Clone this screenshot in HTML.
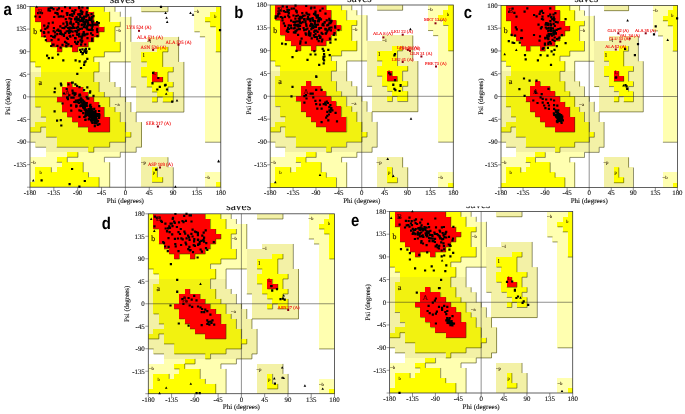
<!DOCTYPE html><html><head><meta charset="utf-8"><style>
html,body{margin:0;padding:0;background:#fff}
svg{display:block}
text{text-rendering:geometricPrecision}
.tk{font-family:"Liberation Serif",serif;font-size:6.9px;fill:#111;stroke:#111;stroke-width:0.12px}
.ax{font-family:"Liberation Serif",serif;font-size:7px;fill:#111;stroke:#111;stroke-width:0.12px}
.pl{font-family:"Liberation Sans",sans-serif;font-weight:bold;font-size:17px;fill:#000}
.rl{font-family:"Liberation Serif",serif;font-size:6px;fill:#2a1800;stroke:#2a1800;stroke-width:0.2px}
.ol{font-family:"Liberation Serif",serif;font-size:4.8px;fill:#f01010;stroke:#f01010;stroke-width:0.12px}
.tt{font-family:"Liberation Serif",serif;font-size:9px;fill:#111;stroke:#111;stroke-width:0.15px}
</style></head><body>
<svg width="685" height="414" viewBox="0 0 685 414">
<rect width="685" height="414" fill="#fff"/>
<defs><g id="map" shape-rendering="crispEdges"><rect x="0" y="0" width="1.04" height="1.04" fill="#ffff00"/><rect x="1" y="0" width="10.04" height="1.04" fill="#ff0000"/><rect x="11" y="0" width="3.04" height="1.04" fill="#ffff00"/><rect x="14" y="0" width="2.04" height="1.04" fill="#ffffb0"/><rect x="21" y="0" width="5.04" height="1.04" fill="#f3f1a6"/><rect x="31" y="0" width="4.04" height="1.04" fill="#ffffb0"/><rect x="35" y="0" width="1.04" height="1.04" fill="#ffff00"/><rect x="0" y="1" width="1.04" height="1.04" fill="#ffff00"/><rect x="1" y="1" width="11.04" height="1.04" fill="#ff0000"/><rect x="12" y="1" width="3.04" height="1.04" fill="#ffff00"/><rect x="15" y="1" width="2.04" height="1.04" fill="#ffffb0"/><rect x="31" y="1" width="3.04" height="1.04" fill="#ffffb0"/><rect x="34" y="1" width="2.04" height="1.04" fill="#ffff00"/><rect x="0" y="2" width="1.04" height="1.04" fill="#ffff00"/><rect x="1" y="2" width="11.04" height="1.04" fill="#ff0000"/><rect x="12" y="2" width="3.04" height="1.04" fill="#ffff00"/><rect x="15" y="2" width="4.04" height="1.04" fill="#ffffb0"/><rect x="31" y="2" width="2.04" height="1.04" fill="#ffffb0"/><rect x="33" y="2" width="3.04" height="1.04" fill="#ffff00"/><rect x="0" y="3" width="2.04" height="1.04" fill="#ffff00"/><rect x="2" y="3" width="11.04" height="1.04" fill="#ff0000"/><rect x="13" y="3" width="4.04" height="1.04" fill="#ffff00"/><rect x="17" y="3" width="2.04" height="1.04" fill="#ffffb0"/><rect x="31" y="3" width="3.04" height="1.04" fill="#ffffb0"/><rect x="34" y="3" width="2.04" height="1.04" fill="#ffff00"/><rect x="0" y="4" width="2.04" height="1.04" fill="#ffff00"/><rect x="2" y="4" width="12.04" height="1.04" fill="#ff0000"/><rect x="14" y="4" width="2.04" height="1.04" fill="#ffff00"/><rect x="16" y="4" width="3.04" height="1.04" fill="#ffffb0"/><rect x="31" y="4" width="4.04" height="1.04" fill="#ffffb0"/><rect x="35" y="4" width="1.04" height="1.04" fill="#ffff00"/><rect x="0" y="5" width="2.04" height="1.04" fill="#ffff00"/><rect x="2" y="5" width="11.04" height="1.04" fill="#ff0000"/><rect x="13" y="5" width="3.04" height="1.04" fill="#ffff00"/><rect x="16" y="5" width="3.04" height="1.04" fill="#ffffb0"/><rect x="32" y="5" width="3.04" height="1.04" fill="#ffffb0"/><rect x="35" y="5" width="1.04" height="1.04" fill="#ffff00"/><rect x="0" y="6" width="3.04" height="1.04" fill="#ffff00"/><rect x="3" y="6" width="9.04" height="1.04" fill="#ff0000"/><rect x="12" y="6" width="4.04" height="1.04" fill="#ffff00"/><rect x="16" y="6" width="3.04" height="1.04" fill="#ffffb0"/><rect x="22" y="6" width="6.04" height="1.04" fill="#f3f1a6"/><rect x="33" y="6" width="2.04" height="1.04" fill="#ffffb0"/><rect x="35" y="6" width="1.04" height="1.04" fill="#ffff00"/><rect x="0" y="7" width="4.04" height="1.04" fill="#ffff00"/><rect x="4" y="7" width="7.04" height="1.04" fill="#ff0000"/><rect x="11" y="7" width="6.04" height="1.04" fill="#ffff00"/><rect x="17" y="7" width="2.04" height="1.04" fill="#ffffb0"/><rect x="19" y="7" width="9.04" height="1.04" fill="#f3f1a6"/><rect x="33" y="7" width="2.04" height="1.04" fill="#ffffb0"/><rect x="35" y="7" width="1.04" height="1.04" fill="#ffff00"/><rect x="0" y="8" width="5.04" height="1.04" fill="#ffff00"/><rect x="5" y="8" width="1.04" height="1.04" fill="#ff0000"/><rect x="6" y="8" width="2.04" height="1.04" fill="#ffff00"/><rect x="8" y="8" width="1.04" height="1.04" fill="#ff0000"/><rect x="9" y="8" width="8.04" height="1.04" fill="#ffff00"/><rect x="17" y="8" width="2.04" height="1.04" fill="#ffffb0"/><rect x="19" y="8" width="5.04" height="1.04" fill="#f3f1a6"/><rect x="24" y="8" width="2.04" height="1.04" fill="#ffff00"/><rect x="26" y="8" width="2.04" height="1.04" fill="#f3f1a6"/><rect x="33" y="8" width="2.04" height="1.04" fill="#ffffb0"/><rect x="35" y="8" width="1.04" height="1.04" fill="#ffff00"/><rect x="0" y="9" width="14.04" height="1.04" fill="#ffff00"/><rect x="14" y="9" width="5.04" height="1.04" fill="#ffffb0"/><rect x="19" y="9" width="2.04" height="1.04" fill="#f3f1a6"/><rect x="21" y="9" width="4.04" height="1.04" fill="#ffff00"/><rect x="25" y="9" width="3.04" height="1.04" fill="#f3f1a6"/><rect x="33" y="9" width="3.04" height="1.04" fill="#ffffb0"/><rect x="0" y="10" width="12.04" height="1.04" fill="#ffff00"/><rect x="12" y="10" width="7.04" height="1.04" fill="#ffffb0"/><rect x="19" y="10" width="2.04" height="1.04" fill="#f3f1a6"/><rect x="21" y="10" width="4.04" height="1.04" fill="#ffff00"/><rect x="25" y="10" width="3.04" height="1.04" fill="#f3f1a6"/><rect x="33" y="10" width="3.04" height="1.04" fill="#ffffb0"/><rect x="0" y="11" width="1.04" height="1.04" fill="#ffffb0"/><rect x="1" y="11" width="12.04" height="1.04" fill="#ffff00"/><rect x="13" y="11" width="2.04" height="1.04" fill="#ffffb0"/><rect x="19" y="11" width="3.04" height="1.04" fill="#f3f1a6"/><rect x="22" y="11" width="3.04" height="1.04" fill="#ffff00"/><rect x="25" y="11" width="4.04" height="1.04" fill="#f3f1a6"/><rect x="33" y="11" width="3.04" height="1.04" fill="#ffffb0"/><rect x="0" y="12" width="2.04" height="1.04" fill="#ffffb0"/><rect x="2" y="12" width="11.04" height="1.04" fill="#ffff00"/><rect x="13" y="12" width="2.04" height="1.04" fill="#ffffb0"/><rect x="19" y="12" width="2.04" height="1.04" fill="#f3f1a6"/><rect x="21" y="12" width="6.04" height="1.04" fill="#ffff00"/><rect x="27" y="12" width="2.04" height="1.04" fill="#f3f1a6"/><rect x="33" y="12" width="3.04" height="1.04" fill="#ffffb0"/><rect x="0" y="13" width="2.04" height="1.04" fill="#f3f1a6"/><rect x="2" y="13" width="10.04" height="1.04" fill="#f2f210"/><rect x="12" y="13" width="3.04" height="1.04" fill="#f3f1a6"/><rect x="19" y="13" width="2.04" height="1.04" fill="#f3f1a6"/><rect x="21" y="13" width="2.04" height="1.04" fill="#ffff00"/><rect x="23" y="13" width="1.04" height="1.04" fill="#ff0000"/><rect x="24" y="13" width="2.04" height="1.04" fill="#ffff00"/><rect x="26" y="13" width="3.04" height="1.04" fill="#f3f1a6"/><rect x="33" y="13" width="3.04" height="1.04" fill="#ffffb0"/><rect x="0" y="14" width="1.04" height="1.04" fill="#f3f1a6"/><rect x="1" y="14" width="11.04" height="1.04" fill="#f2f210"/><rect x="12" y="14" width="3.04" height="1.04" fill="#f3f1a6"/><rect x="19" y="14" width="3.04" height="1.04" fill="#f3f1a6"/><rect x="22" y="14" width="1.04" height="1.04" fill="#ffff00"/><rect x="23" y="14" width="2.04" height="1.04" fill="#ff0000"/><rect x="25" y="14" width="1.04" height="1.04" fill="#ffff00"/><rect x="26" y="14" width="3.04" height="1.04" fill="#f3f1a6"/><rect x="33" y="14" width="3.04" height="1.04" fill="#ffffb0"/><rect x="0" y="15" width="1.04" height="1.04" fill="#f3f1a6"/><rect x="1" y="15" width="6.04" height="1.04" fill="#f2f210"/><rect x="7" y="15" width="1.04" height="1.04" fill="#ff0000"/><rect x="8" y="15" width="5.04" height="1.04" fill="#f2f210"/><rect x="13" y="15" width="3.04" height="1.04" fill="#f3f1a6"/><rect x="19" y="15" width="3.04" height="1.04" fill="#f3f1a6"/><rect x="22" y="15" width="5.04" height="1.04" fill="#ffff00"/><rect x="27" y="15" width="2.04" height="1.04" fill="#f3f1a6"/><rect x="33" y="15" width="3.04" height="1.04" fill="#ffffb0"/><rect x="0" y="16" width="1.04" height="1.04" fill="#f3f1a6"/><rect x="1" y="16" width="5.04" height="1.04" fill="#f2f210"/><rect x="6" y="16" width="4.04" height="1.04" fill="#ff0000"/><rect x="10" y="16" width="3.04" height="1.04" fill="#f2f210"/><rect x="13" y="16" width="4.04" height="1.04" fill="#f3f1a6"/><rect x="20" y="16" width="3.04" height="1.04" fill="#f3f1a6"/><rect x="23" y="16" width="3.04" height="1.04" fill="#ffff00"/><rect x="26" y="16" width="3.04" height="1.04" fill="#f3f1a6"/><rect x="33" y="16" width="3.04" height="1.04" fill="#ffffb0"/><rect x="0" y="17" width="1.04" height="1.04" fill="#f3f1a6"/><rect x="1" y="17" width="5.04" height="1.04" fill="#f2f210"/><rect x="6" y="17" width="5.04" height="1.04" fill="#ff0000"/><rect x="11" y="17" width="3.04" height="1.04" fill="#f2f210"/><rect x="14" y="17" width="3.04" height="1.04" fill="#f3f1a6"/><rect x="20" y="17" width="4.04" height="1.04" fill="#f3f1a6"/><rect x="24" y="17" width="3.04" height="1.04" fill="#ffff00"/><rect x="27" y="17" width="2.04" height="1.04" fill="#f3f1a6"/><rect x="33" y="17" width="3.04" height="1.04" fill="#ffffb0"/><rect x="0" y="18" width="1.04" height="1.04" fill="#f3f1a6"/><rect x="1" y="18" width="4.04" height="1.04" fill="#f2f210"/><rect x="5" y="18" width="7.04" height="1.04" fill="#ff0000"/><rect x="12" y="18" width="3.04" height="1.04" fill="#f2f210"/><rect x="15" y="18" width="3.04" height="1.04" fill="#f3f1a6"/><rect x="20" y="18" width="3.04" height="1.04" fill="#f3f1a6"/><rect x="23" y="18" width="1.04" height="1.04" fill="#ffff00"/><rect x="24" y="18" width="1.04" height="1.04" fill="#f3f1a6"/><rect x="25" y="18" width="2.04" height="1.04" fill="#ffff00"/><rect x="27" y="18" width="2.04" height="1.04" fill="#f3f1a6"/><rect x="33" y="18" width="3.04" height="1.04" fill="#ffffb0"/><rect x="0" y="19" width="1.04" height="1.04" fill="#f3f1a6"/><rect x="1" y="19" width="5.04" height="1.04" fill="#f2f210"/><rect x="6" y="19" width="7.04" height="1.04" fill="#ff0000"/><rect x="13" y="19" width="2.04" height="1.04" fill="#f2f210"/><rect x="15" y="19" width="4.04" height="1.04" fill="#f3f1a6"/><rect x="20" y="19" width="9.04" height="1.04" fill="#f3f1a6"/><rect x="33" y="19" width="3.04" height="1.04" fill="#ffffb0"/><rect x="0" y="20" width="2.04" height="1.04" fill="#f3f1a6"/><rect x="2" y="20" width="4.04" height="1.04" fill="#f2f210"/><rect x="6" y="20" width="8.04" height="1.04" fill="#ff0000"/><rect x="14" y="20" width="2.04" height="1.04" fill="#f2f210"/><rect x="16" y="20" width="3.04" height="1.04" fill="#f3f1a6"/><rect x="20" y="20" width="9.04" height="1.04" fill="#f3f1a6"/><rect x="33" y="20" width="3.04" height="1.04" fill="#ffffb0"/><rect x="0" y="21" width="2.04" height="1.04" fill="#f3f1a6"/><rect x="2" y="21" width="5.04" height="1.04" fill="#f2f210"/><rect x="7" y="21" width="7.04" height="1.04" fill="#ff0000"/><rect x="14" y="21" width="3.04" height="1.04" fill="#f2f210"/><rect x="17" y="21" width="3.04" height="1.04" fill="#f3f1a6"/><rect x="33" y="21" width="3.04" height="1.04" fill="#ffffb0"/><rect x="0" y="22" width="3.04" height="1.04" fill="#f3f1a6"/><rect x="3" y="22" width="5.04" height="1.04" fill="#f2f210"/><rect x="8" y="22" width="7.04" height="1.04" fill="#ff0000"/><rect x="15" y="22" width="2.04" height="1.04" fill="#f2f210"/><rect x="17" y="22" width="3.04" height="1.04" fill="#f3f1a6"/><rect x="33" y="22" width="3.04" height="1.04" fill="#ffffb0"/><rect x="0" y="23" width="1.04" height="1.04" fill="#f3f1a6"/><rect x="1" y="23" width="8.04" height="1.04" fill="#f2f210"/><rect x="9" y="23" width="6.04" height="1.04" fill="#ff0000"/><rect x="15" y="23" width="3.04" height="1.04" fill="#f2f210"/><rect x="18" y="23" width="3.04" height="1.04" fill="#f3f1a6"/><rect x="33" y="23" width="3.04" height="1.04" fill="#ffffb0"/><rect x="0" y="24" width="2.04" height="1.04" fill="#f2f210"/><rect x="2" y="24" width="1.04" height="1.04" fill="#f3f1a6"/><rect x="3" y="24" width="8.04" height="1.04" fill="#f2f210"/><rect x="11" y="24" width="4.04" height="1.04" fill="#ff0000"/><rect x="15" y="24" width="3.04" height="1.04" fill="#f2f210"/><rect x="18" y="24" width="3.04" height="1.04" fill="#f3f1a6"/><rect x="33" y="24" width="3.04" height="1.04" fill="#ffffb0"/><rect x="0" y="25" width="3.04" height="1.04" fill="#f3f1a6"/><rect x="3" y="25" width="15.04" height="1.04" fill="#f2f210"/><rect x="18" y="25" width="1.04" height="1.04" fill="#ffff00"/><rect x="19" y="25" width="2.04" height="1.04" fill="#f3f1a6"/><rect x="33" y="25" width="3.04" height="1.04" fill="#ffffb0"/><rect x="0" y="26" width="5.04" height="1.04" fill="#f3f1a6"/><rect x="5" y="26" width="13.04" height="1.04" fill="#f2f210"/><rect x="18" y="26" width="3.04" height="1.04" fill="#f3f1a6"/><rect x="33" y="26" width="3.04" height="1.04" fill="#ffffb0"/><rect x="1" y="27" width="4.04" height="1.04" fill="#f3f1a6"/><rect x="5" y="27" width="10.04" height="1.04" fill="#f2f210"/><rect x="15" y="27" width="6.04" height="1.04" fill="#f3f1a6"/><rect x="3" y="28" width="8.04" height="1.04" fill="#f3f1a6"/><rect x="11" y="28" width="1.04" height="1.04" fill="#f2f210"/><rect x="12" y="28" width="8.04" height="1.04" fill="#f3f1a6"/><rect x="3" y="29" width="4.04" height="1.04" fill="#ffffb0"/><rect x="7" y="29" width="2.04" height="1.04" fill="#ffff00"/><rect x="9" y="29" width="8.04" height="1.04" fill="#ffffb0"/><rect x="0" y="30" width="5.04" height="1.04" fill="#ffffb0"/><rect x="5" y="30" width="2.04" height="1.04" fill="#ffff00"/><rect x="7" y="30" width="7.04" height="1.04" fill="#ffffb0"/><rect x="21" y="30" width="5.04" height="1.04" fill="#f3f1a6"/><rect x="0" y="31" width="6.04" height="1.04" fill="#ffffb0"/><rect x="6" y="31" width="4.04" height="1.04" fill="#ffff00"/><rect x="10" y="31" width="5.04" height="1.04" fill="#ffffb0"/><rect x="21" y="31" width="5.04" height="1.04" fill="#f3f1a6"/><rect x="0" y="32" width="1.04" height="1.04" fill="#ffffb0"/><rect x="1" y="32" width="3.04" height="1.04" fill="#ffff00"/><rect x="4" y="32" width="1.04" height="1.04" fill="#ffffb0"/><rect x="5" y="32" width="5.04" height="1.04" fill="#ffff00"/><rect x="10" y="32" width="5.04" height="1.04" fill="#ffffb0"/><rect x="21" y="32" width="2.04" height="1.04" fill="#f3f1a6"/><rect x="23" y="32" width="1.04" height="1.04" fill="#ffff00"/><rect x="24" y="32" width="3.04" height="1.04" fill="#f3f1a6"/><rect x="0" y="33" width="1.04" height="1.04" fill="#ffffb0"/><rect x="1" y="33" width="10.04" height="1.04" fill="#ffff00"/><rect x="11" y="33" width="4.04" height="1.04" fill="#ffffb0"/><rect x="21" y="33" width="2.04" height="1.04" fill="#f3f1a6"/><rect x="23" y="33" width="1.04" height="1.04" fill="#ffff00"/><rect x="24" y="33" width="3.04" height="1.04" fill="#f3f1a6"/><rect x="33" y="33" width="3.04" height="1.04" fill="#ffffb0"/><rect x="0" y="34" width="1.04" height="1.04" fill="#ffffb0"/><rect x="1" y="34" width="12.04" height="1.04" fill="#ffff00"/><rect x="13" y="34" width="2.04" height="1.04" fill="#ffffb0"/><rect x="21" y="34" width="2.04" height="1.04" fill="#f3f1a6"/><rect x="23" y="34" width="2.04" height="1.04" fill="#ffff00"/><rect x="25" y="34" width="2.04" height="1.04" fill="#f3f1a6"/><rect x="33" y="34" width="3.04" height="1.04" fill="#ffffb0"/><rect x="0" y="35" width="13.04" height="1.04" fill="#ffff00"/><rect x="13" y="35" width="2.04" height="1.04" fill="#ffffb0"/><rect x="21" y="35" width="6.04" height="1.04" fill="#f3f1a6"/><rect x="33" y="35" width="2.04" height="1.04" fill="#ffffb0"/><rect x="35" y="35" width="1.04" height="1.04" fill="#ffff00"/></g><path id="edges" d="M21 1H26M1 3H2M33 3H34M16 4H17M34 4H35M13 5H14M31 5H32M2 6H3M12 6H13M32 6H33M3 7H4M11 7H12M4 8H5M6 8H8M9 8H11M5 9H6M8 9H9M14 9H17M25 9H26M35 9H36M12 10H14M0 11H1M15 11H19M21 11H22M1 12H2M12 13H13M26 13H27M21 14H22M23 15H25M19 16H20M22 16H23M26 16H27M23 17H24M24 18H25M5 19H6M23 19H24M25 19H27M1 20H2M6 21H7M20 21H29M2 22H3M7 22H8M8 23H9M2 24H3M9 24H11M0 25H2M11 25H15M3 26H5M18 26H19M0 27H1M15 27H18M33 27H36M1 28H3M5 28H11M12 28H15M20 28H21M11 29H12M17 29H20M7 30H9M14 30H17M5 31H6M23 35H25M2 24V25M4 32V33M6 8V9M7 30V31M8 15V16M9 8V9M9 29V30M10 16V17M10 31V33M11 0V1M11 7V8M11 17V18M11 33V34M12 1V3M12 6V7M12 10V11M12 13V15M12 18V19M12 28V29M13 3V4M13 5V6M13 11V13M13 15V17M13 19V20M13 34V36M14 0V1M14 4V5M14 9V10M14 17V18M14 20V22M14 30V31M15 1V3M15 11V15M15 18V20M15 22V25M15 27V28M15 31V36M16 0V1M16 4V7M16 15V16M16 20V21M17 1V2M17 3V4M17 7V9M17 16V18M17 21V23M17 29V30M18 18V19M18 23V25M18 26V27M19 2V7M19 19V21M19 25V26M20 21V23M20 28V29M21 23V28M24 13V14M24 18V19M24 32V34M25 9V12M25 14V15M25 34V35M26 0V1M26 8V9M26 13V15M26 16V17M26 30V32M27 12V13M27 15V16M27 17V19M27 32V36M28 6V11M29 11V21" fill="none" stroke="#3c3c00" stroke-opacity="0.8" stroke-width="0.7" vector-effect="non-scaling-stroke"/></defs>
<g>
<use href="#map" transform="translate(30.00,6.50) scale(5.3000,5.0194)"/>
<use href="#edges" transform="translate(30.20,6.70) scale(5.3000,5.0194)"/>
<rect x="30.00" y="6.50" width="190.80" height="180.70" fill="none" stroke="#3a3a3a" stroke-width="0.8"/>
<line x1="125.40" y1="6.50" x2="125.40" y2="187.20" stroke="#222" stroke-width="0.5"/>
<line x1="30.00" y1="96.85" x2="220.80" y2="96.85" stroke="#222" stroke-width="0.5"/>
<line x1="30.00" y1="187.20" x2="30.00" y2="190.70" stroke="#333" stroke-width="0.55"/>
<text class="tk" x="30.00" y="195.00" text-anchor="middle">-180</text>
<line x1="27.00" y1="6.50" x2="30.00" y2="6.50" stroke="#333" stroke-width="0.5"/>
<text class="tk" x="26.50" y="8.80" text-anchor="end">180</text>
<line x1="53.85" y1="187.20" x2="53.85" y2="190.70" stroke="#333" stroke-width="0.55"/>
<text class="tk" x="53.85" y="195.00" text-anchor="middle">-135</text>
<line x1="27.00" y1="29.09" x2="30.00" y2="29.09" stroke="#333" stroke-width="0.5"/>
<text class="tk" x="26.50" y="31.39" text-anchor="end">135</text>
<line x1="77.70" y1="187.20" x2="77.70" y2="190.70" stroke="#333" stroke-width="0.55"/>
<text class="tk" x="77.70" y="195.00" text-anchor="middle">-90</text>
<line x1="27.00" y1="51.67" x2="30.00" y2="51.67" stroke="#333" stroke-width="0.5"/>
<text class="tk" x="26.50" y="53.97" text-anchor="end">90</text>
<line x1="101.55" y1="187.20" x2="101.55" y2="190.70" stroke="#333" stroke-width="0.55"/>
<text class="tk" x="101.55" y="195.00" text-anchor="middle">-45</text>
<line x1="27.00" y1="74.26" x2="30.00" y2="74.26" stroke="#333" stroke-width="0.5"/>
<text class="tk" x="26.50" y="76.56" text-anchor="end">45</text>
<line x1="125.40" y1="187.20" x2="125.40" y2="190.70" stroke="#333" stroke-width="0.55"/>
<text class="tk" x="125.40" y="195.00" text-anchor="middle">0</text>
<line x1="27.00" y1="96.85" x2="30.00" y2="96.85" stroke="#333" stroke-width="0.5"/>
<text class="tk" x="26.50" y="99.15" text-anchor="end">0</text>
<line x1="149.25" y1="187.20" x2="149.25" y2="190.70" stroke="#333" stroke-width="0.55"/>
<text class="tk" x="149.25" y="195.00" text-anchor="middle">45</text>
<line x1="27.00" y1="119.44" x2="30.00" y2="119.44" stroke="#333" stroke-width="0.5"/>
<text class="tk" x="26.50" y="121.74" text-anchor="end">-45</text>
<line x1="173.10" y1="187.20" x2="173.10" y2="190.70" stroke="#333" stroke-width="0.55"/>
<text class="tk" x="173.10" y="195.00" text-anchor="middle">90</text>
<line x1="27.00" y1="142.02" x2="30.00" y2="142.02" stroke="#333" stroke-width="0.5"/>
<text class="tk" x="26.50" y="144.32" text-anchor="end">-90</text>
<line x1="196.95" y1="187.20" x2="196.95" y2="190.70" stroke="#333" stroke-width="0.55"/>
<text class="tk" x="196.95" y="195.00" text-anchor="middle">135</text>
<line x1="27.00" y1="164.61" x2="30.00" y2="164.61" stroke="#333" stroke-width="0.5"/>
<text class="tk" x="26.50" y="166.91" text-anchor="end">-135</text>
<line x1="220.80" y1="187.20" x2="220.80" y2="190.70" stroke="#333" stroke-width="0.55"/>
<text class="tk" x="220.80" y="195.00" text-anchor="middle">180</text>
<line x1="27.00" y1="187.20" x2="30.00" y2="187.20" stroke="#333" stroke-width="0.5"/>
<text class="ax" x="125.40" y="202.70" text-anchor="middle">Phi (degrees)</text>
<text class="ax" transform="translate(10.40,96.85) rotate(-90)" text-anchor="middle">Psi (degrees)</text>
</g>
<g>
<use href="#map" transform="translate(270.20,5.00) scale(5.0861,5.0722)"/>
<use href="#edges" transform="translate(270.40,5.20) scale(5.0861,5.0722)"/>
<rect x="270.20" y="5.00" width="183.10" height="182.60" fill="none" stroke="#3a3a3a" stroke-width="0.8"/>
<line x1="361.75" y1="5.00" x2="361.75" y2="187.60" stroke="#222" stroke-width="0.5"/>
<line x1="270.20" y1="96.30" x2="453.30" y2="96.30" stroke="#222" stroke-width="0.5"/>
<line x1="270.20" y1="187.60" x2="270.20" y2="191.10" stroke="#333" stroke-width="0.55"/>
<text class="tk" x="270.20" y="195.40" text-anchor="middle">-180</text>
<line x1="267.20" y1="5.00" x2="270.20" y2="5.00" stroke="#333" stroke-width="0.5"/>
<text class="tk" x="266.90" y="7.30" text-anchor="end">180</text>
<line x1="293.09" y1="187.60" x2="293.09" y2="191.10" stroke="#333" stroke-width="0.55"/>
<text class="tk" x="293.09" y="195.40" text-anchor="middle">-135</text>
<line x1="267.20" y1="27.82" x2="270.20" y2="27.82" stroke="#333" stroke-width="0.5"/>
<text class="tk" x="266.90" y="30.12" text-anchor="end">135</text>
<line x1="315.98" y1="187.60" x2="315.98" y2="191.10" stroke="#333" stroke-width="0.55"/>
<text class="tk" x="315.98" y="195.40" text-anchor="middle">-90</text>
<line x1="267.20" y1="50.65" x2="270.20" y2="50.65" stroke="#333" stroke-width="0.5"/>
<text class="tk" x="266.90" y="52.95" text-anchor="end">90</text>
<line x1="338.86" y1="187.60" x2="338.86" y2="191.10" stroke="#333" stroke-width="0.55"/>
<text class="tk" x="338.86" y="195.40" text-anchor="middle">-45</text>
<line x1="267.20" y1="73.47" x2="270.20" y2="73.47" stroke="#333" stroke-width="0.5"/>
<text class="tk" x="266.90" y="75.77" text-anchor="end">45</text>
<line x1="361.75" y1="187.60" x2="361.75" y2="191.10" stroke="#333" stroke-width="0.55"/>
<text class="tk" x="361.75" y="195.40" text-anchor="middle">0</text>
<line x1="267.20" y1="96.30" x2="270.20" y2="96.30" stroke="#333" stroke-width="0.5"/>
<text class="tk" x="266.90" y="98.60" text-anchor="end">0</text>
<line x1="384.64" y1="187.60" x2="384.64" y2="191.10" stroke="#333" stroke-width="0.55"/>
<text class="tk" x="384.64" y="195.40" text-anchor="middle">45</text>
<line x1="267.20" y1="119.12" x2="270.20" y2="119.12" stroke="#333" stroke-width="0.5"/>
<text class="tk" x="266.90" y="121.42" text-anchor="end">-45</text>
<line x1="407.52" y1="187.60" x2="407.52" y2="191.10" stroke="#333" stroke-width="0.55"/>
<text class="tk" x="407.52" y="195.40" text-anchor="middle">90</text>
<line x1="267.20" y1="141.95" x2="270.20" y2="141.95" stroke="#333" stroke-width="0.5"/>
<text class="tk" x="266.90" y="144.25" text-anchor="end">-90</text>
<line x1="430.41" y1="187.60" x2="430.41" y2="191.10" stroke="#333" stroke-width="0.55"/>
<text class="tk" x="430.41" y="195.40" text-anchor="middle">135</text>
<line x1="267.20" y1="164.78" x2="270.20" y2="164.78" stroke="#333" stroke-width="0.5"/>
<text class="tk" x="266.90" y="167.08" text-anchor="end">-135</text>
<line x1="453.30" y1="187.60" x2="453.30" y2="191.10" stroke="#333" stroke-width="0.55"/>
<text class="tk" x="453.30" y="195.40" text-anchor="middle">180</text>
<line x1="267.20" y1="187.60" x2="270.20" y2="187.60" stroke="#333" stroke-width="0.5"/>
<text class="ax" x="361.75" y="203.10" text-anchor="middle">Phi (degrees)</text>
<text class="ax" transform="translate(250.60,96.30) rotate(-90)" text-anchor="middle">Psi (degrees)</text>
</g>
<g>
<use href="#map" transform="translate(501.00,5.40) scale(4.9000,5.0611)"/>
<use href="#edges" transform="translate(501.20,5.60) scale(4.9000,5.0611)"/>
<rect x="501.00" y="5.40" width="176.40" height="182.20" fill="none" stroke="#3a3a3a" stroke-width="0.8"/>
<line x1="589.20" y1="5.40" x2="589.20" y2="187.60" stroke="#222" stroke-width="0.5"/>
<line x1="501.00" y1="96.50" x2="677.40" y2="96.50" stroke="#222" stroke-width="0.5"/>
<line x1="501.00" y1="187.60" x2="501.00" y2="191.10" stroke="#333" stroke-width="0.55"/>
<text class="tk" x="501.00" y="195.40" text-anchor="middle">-180</text>
<line x1="498.00" y1="5.40" x2="501.00" y2="5.40" stroke="#333" stroke-width="0.5"/>
<text class="tk" x="497.70" y="7.70" text-anchor="end">180</text>
<line x1="523.05" y1="187.60" x2="523.05" y2="191.10" stroke="#333" stroke-width="0.55"/>
<text class="tk" x="523.05" y="195.40" text-anchor="middle">-135</text>
<line x1="498.00" y1="28.17" x2="501.00" y2="28.17" stroke="#333" stroke-width="0.5"/>
<text class="tk" x="497.70" y="30.47" text-anchor="end">135</text>
<line x1="545.10" y1="187.60" x2="545.10" y2="191.10" stroke="#333" stroke-width="0.55"/>
<text class="tk" x="545.10" y="195.40" text-anchor="middle">-90</text>
<line x1="498.00" y1="50.95" x2="501.00" y2="50.95" stroke="#333" stroke-width="0.5"/>
<text class="tk" x="497.70" y="53.25" text-anchor="end">90</text>
<line x1="567.15" y1="187.60" x2="567.15" y2="191.10" stroke="#333" stroke-width="0.55"/>
<text class="tk" x="567.15" y="195.40" text-anchor="middle">-45</text>
<line x1="498.00" y1="73.72" x2="501.00" y2="73.72" stroke="#333" stroke-width="0.5"/>
<text class="tk" x="497.70" y="76.02" text-anchor="end">45</text>
<line x1="589.20" y1="187.60" x2="589.20" y2="191.10" stroke="#333" stroke-width="0.55"/>
<text class="tk" x="589.20" y="195.40" text-anchor="middle">0</text>
<line x1="498.00" y1="96.50" x2="501.00" y2="96.50" stroke="#333" stroke-width="0.5"/>
<text class="tk" x="497.70" y="98.80" text-anchor="end">0</text>
<line x1="611.25" y1="187.60" x2="611.25" y2="191.10" stroke="#333" stroke-width="0.55"/>
<text class="tk" x="611.25" y="195.40" text-anchor="middle">45</text>
<line x1="498.00" y1="119.28" x2="501.00" y2="119.28" stroke="#333" stroke-width="0.5"/>
<text class="tk" x="497.70" y="121.58" text-anchor="end">-45</text>
<line x1="633.30" y1="187.60" x2="633.30" y2="191.10" stroke="#333" stroke-width="0.55"/>
<text class="tk" x="633.30" y="195.40" text-anchor="middle">90</text>
<line x1="498.00" y1="142.05" x2="501.00" y2="142.05" stroke="#333" stroke-width="0.5"/>
<text class="tk" x="497.70" y="144.35" text-anchor="end">-90</text>
<line x1="655.35" y1="187.60" x2="655.35" y2="191.10" stroke="#333" stroke-width="0.55"/>
<text class="tk" x="655.35" y="195.40" text-anchor="middle">135</text>
<line x1="498.00" y1="164.82" x2="501.00" y2="164.82" stroke="#333" stroke-width="0.5"/>
<text class="tk" x="497.70" y="167.12" text-anchor="end">-135</text>
<line x1="677.40" y1="187.60" x2="677.40" y2="191.10" stroke="#333" stroke-width="0.55"/>
<text class="tk" x="677.40" y="195.40" text-anchor="middle">180</text>
<line x1="498.00" y1="187.60" x2="501.00" y2="187.60" stroke="#333" stroke-width="0.5"/>
<text class="ax" x="589.20" y="203.10" text-anchor="middle">Phi (degrees)</text>
<text class="ax" transform="translate(482.80,96.50) rotate(-90)" text-anchor="middle">Psi (degrees)</text>
</g>
<g>
<use href="#map" transform="translate(148.30,213.80) scale(5.1722,4.9972)"/>
<use href="#edges" transform="translate(148.50,214.00) scale(5.1722,4.9972)"/>
<rect x="148.30" y="213.80" width="186.20" height="179.90" fill="none" stroke="#3a3a3a" stroke-width="0.8"/>
<line x1="241.40" y1="213.80" x2="241.40" y2="393.70" stroke="#222" stroke-width="0.5"/>
<line x1="148.30" y1="303.75" x2="334.50" y2="303.75" stroke="#222" stroke-width="0.5"/>
<line x1="148.30" y1="393.70" x2="148.30" y2="397.20" stroke="#333" stroke-width="0.55"/>
<text class="tk" x="148.30" y="401.50" text-anchor="middle">-180</text>
<line x1="145.30" y1="213.80" x2="148.30" y2="213.80" stroke="#333" stroke-width="0.5"/>
<text class="tk" x="144.80" y="216.10" text-anchor="end">180</text>
<line x1="171.58" y1="393.70" x2="171.58" y2="397.20" stroke="#333" stroke-width="0.55"/>
<text class="tk" x="171.58" y="401.50" text-anchor="middle">-135</text>
<line x1="145.30" y1="236.29" x2="148.30" y2="236.29" stroke="#333" stroke-width="0.5"/>
<text class="tk" x="144.80" y="238.59" text-anchor="end">135</text>
<line x1="194.85" y1="393.70" x2="194.85" y2="397.20" stroke="#333" stroke-width="0.55"/>
<text class="tk" x="194.85" y="401.50" text-anchor="middle">-90</text>
<line x1="145.30" y1="258.77" x2="148.30" y2="258.77" stroke="#333" stroke-width="0.5"/>
<text class="tk" x="144.80" y="261.07" text-anchor="end">90</text>
<line x1="218.12" y1="393.70" x2="218.12" y2="397.20" stroke="#333" stroke-width="0.55"/>
<text class="tk" x="218.12" y="401.50" text-anchor="middle">-45</text>
<line x1="145.30" y1="281.26" x2="148.30" y2="281.26" stroke="#333" stroke-width="0.5"/>
<text class="tk" x="144.80" y="283.56" text-anchor="end">45</text>
<line x1="241.40" y1="393.70" x2="241.40" y2="397.20" stroke="#333" stroke-width="0.55"/>
<text class="tk" x="241.40" y="401.50" text-anchor="middle">0</text>
<line x1="145.30" y1="303.75" x2="148.30" y2="303.75" stroke="#333" stroke-width="0.5"/>
<text class="tk" x="144.80" y="306.05" text-anchor="end">0</text>
<line x1="264.68" y1="393.70" x2="264.68" y2="397.20" stroke="#333" stroke-width="0.55"/>
<text class="tk" x="264.68" y="401.50" text-anchor="middle">45</text>
<line x1="145.30" y1="326.24" x2="148.30" y2="326.24" stroke="#333" stroke-width="0.5"/>
<text class="tk" x="144.80" y="328.54" text-anchor="end">-45</text>
<line x1="287.95" y1="393.70" x2="287.95" y2="397.20" stroke="#333" stroke-width="0.55"/>
<text class="tk" x="287.95" y="401.50" text-anchor="middle">90</text>
<line x1="145.30" y1="348.73" x2="148.30" y2="348.73" stroke="#333" stroke-width="0.5"/>
<text class="tk" x="144.80" y="351.03" text-anchor="end">-90</text>
<line x1="311.23" y1="393.70" x2="311.23" y2="397.20" stroke="#333" stroke-width="0.55"/>
<text class="tk" x="311.23" y="401.50" text-anchor="middle">135</text>
<line x1="145.30" y1="371.21" x2="148.30" y2="371.21" stroke="#333" stroke-width="0.5"/>
<text class="tk" x="144.80" y="373.51" text-anchor="end">-135</text>
<line x1="334.50" y1="393.70" x2="334.50" y2="397.20" stroke="#333" stroke-width="0.55"/>
<text class="tk" x="334.50" y="401.50" text-anchor="middle">180</text>
<line x1="145.30" y1="393.70" x2="148.30" y2="393.70" stroke="#333" stroke-width="0.5"/>
<text class="ax" x="241.40" y="409.20" text-anchor="middle">Phi (degrees)</text>
<text class="ax" transform="translate(128.70,303.75) rotate(-90)" text-anchor="middle">Psi (degrees)</text>
</g>
<g>
<use href="#map" transform="translate(389.60,211.50) scale(5.0861,5.0417)"/>
<use href="#edges" transform="translate(389.80,211.70) scale(5.0861,5.0417)"/>
<rect x="389.60" y="211.50" width="183.10" height="181.50" fill="none" stroke="#3a3a3a" stroke-width="0.8"/>
<line x1="481.15" y1="211.50" x2="481.15" y2="393.00" stroke="#222" stroke-width="0.5"/>
<line x1="389.60" y1="302.25" x2="572.70" y2="302.25" stroke="#222" stroke-width="0.5"/>
<line x1="389.60" y1="393.00" x2="389.60" y2="396.50" stroke="#333" stroke-width="0.55"/>
<text class="tk" x="389.60" y="400.80" text-anchor="middle">-180</text>
<line x1="386.60" y1="211.50" x2="389.60" y2="211.50" stroke="#333" stroke-width="0.5"/>
<text class="tk" x="386.10" y="213.80" text-anchor="end">180</text>
<line x1="412.49" y1="393.00" x2="412.49" y2="396.50" stroke="#333" stroke-width="0.55"/>
<text class="tk" x="412.49" y="400.80" text-anchor="middle">-135</text>
<line x1="386.60" y1="234.19" x2="389.60" y2="234.19" stroke="#333" stroke-width="0.5"/>
<text class="tk" x="386.10" y="236.49" text-anchor="end">135</text>
<line x1="435.38" y1="393.00" x2="435.38" y2="396.50" stroke="#333" stroke-width="0.55"/>
<text class="tk" x="435.38" y="400.80" text-anchor="middle">-90</text>
<line x1="386.60" y1="256.88" x2="389.60" y2="256.88" stroke="#333" stroke-width="0.5"/>
<text class="tk" x="386.10" y="259.18" text-anchor="end">90</text>
<line x1="458.26" y1="393.00" x2="458.26" y2="396.50" stroke="#333" stroke-width="0.55"/>
<text class="tk" x="458.26" y="400.80" text-anchor="middle">-45</text>
<line x1="386.60" y1="279.56" x2="389.60" y2="279.56" stroke="#333" stroke-width="0.5"/>
<text class="tk" x="386.10" y="281.86" text-anchor="end">45</text>
<line x1="481.15" y1="393.00" x2="481.15" y2="396.50" stroke="#333" stroke-width="0.55"/>
<text class="tk" x="481.15" y="400.80" text-anchor="middle">0</text>
<line x1="386.60" y1="302.25" x2="389.60" y2="302.25" stroke="#333" stroke-width="0.5"/>
<text class="tk" x="386.10" y="304.55" text-anchor="end">0</text>
<line x1="504.04" y1="393.00" x2="504.04" y2="396.50" stroke="#333" stroke-width="0.55"/>
<text class="tk" x="504.04" y="400.80" text-anchor="middle">45</text>
<line x1="386.60" y1="324.94" x2="389.60" y2="324.94" stroke="#333" stroke-width="0.5"/>
<text class="tk" x="386.10" y="327.24" text-anchor="end">-45</text>
<line x1="526.93" y1="393.00" x2="526.93" y2="396.50" stroke="#333" stroke-width="0.55"/>
<text class="tk" x="526.93" y="400.80" text-anchor="middle">90</text>
<line x1="386.60" y1="347.62" x2="389.60" y2="347.62" stroke="#333" stroke-width="0.5"/>
<text class="tk" x="386.10" y="349.93" text-anchor="end">-90</text>
<line x1="549.81" y1="393.00" x2="549.81" y2="396.50" stroke="#333" stroke-width="0.55"/>
<text class="tk" x="549.81" y="400.80" text-anchor="middle">135</text>
<line x1="386.60" y1="370.31" x2="389.60" y2="370.31" stroke="#333" stroke-width="0.5"/>
<text class="tk" x="386.10" y="372.61" text-anchor="end">-135</text>
<line x1="572.70" y1="393.00" x2="572.70" y2="396.50" stroke="#333" stroke-width="0.55"/>
<text class="tk" x="572.70" y="400.80" text-anchor="middle">180</text>
<line x1="386.60" y1="393.00" x2="389.60" y2="393.00" stroke="#333" stroke-width="0.5"/>
<text class="ax" x="481.15" y="408.50" text-anchor="middle">Phi (degrees)</text>
<text class="ax" transform="translate(370.00,302.25) rotate(-90)" text-anchor="middle">Psi (degrees)</text>
</g>
<text class="pl" transform="translate(3.4,14.7) scale(0.88,1)">a</text>
<text class="pl" transform="translate(234.3,17.6) scale(0.88,1)">b</text>
<text class="pl" transform="translate(463.8,17.6) scale(0.88,1)">c</text>
<text class="pl" transform="translate(101.8,228.9) scale(0.88,1)">d</text>
<text class="pl" transform="translate(350.9,225.5) scale(0.88,1)">e</text>
<clipPath id="cta"><rect x="102.3" y="0" width="40" height="12"/></clipPath>
<text class="tt" clip-path="url(#cta)" style="font-size:11.5px" x="122.3" y="3.3" text-anchor="middle">saves</text>
<clipPath id="ctb"><rect x="339.5" y="0" width="40" height="12"/></clipPath>
<text class="tt" clip-path="url(#ctb)" style="font-size:11.3px" x="359.5" y="1.6" text-anchor="middle">saves</text>
<clipPath id="ctc"><rect x="566.3" y="0" width="40" height="12"/></clipPath>
<text class="tt" clip-path="url(#ctc)" style="font-size:11px" x="586.3" y="1.9" text-anchor="middle">saves</text>
<clipPath id="ctd"><rect x="218.7" y="206" width="40" height="12"/></clipPath>
<text class="tt" clip-path="url(#ctd)" style="font-size:11.5px" x="238.7" y="210.4" text-anchor="middle">saves</text>
<clipPath id="cte"><rect x="458.2" y="206.5" width="40" height="12"/></clipPath>
<text class="tt" clip-path="url(#cte)" style="font-size:11.2px" x="478.2" y="208" text-anchor="middle">saves</text>
<path d="M46.0 54.6h2.2v2.2h-2.2zM47.7 57.1h2.2v2.2h-2.2zM51.4 56.7h2.2v2.2h-2.2zM57.0 53.4h2.2v2.2h-2.2zM62.2 59.2h2.2v2.2h-2.2zM78.5 60.2h2.2v2.2h-2.2zM83.4 61.3h2.2v2.2h-2.2zM86.2 57.7h2.2v2.2h-2.2zM83.0 63.8h2.2v2.2h-2.2zM79.9 66.9h2.2v2.2h-2.2zM76.2 72.7h2.2v2.2h-2.2zM81.4 48.2h2.2v2.2h-2.2zM84.1 48.8h2.2v2.2h-2.2zM79.9 50.9h2.2v2.2h-2.2zM81.4 53.0h2.2v2.2h-2.2zM85.1 51.9h2.2v2.2h-2.2zM88.2 47.8h2.2v2.2h-2.2zM60.2 83.7h2.2v2.2h-2.2zM71.6 81.6h2.2v2.2h-2.2zM53.9 87.4h2.2v2.2h-2.2zM53.5 91.1h2.2v2.2h-2.2zM60.2 84.3h2.2v2.2h-2.2zM67.4 83.2h2.2v2.2h-2.2zM71.0 81.6h2.2v2.2h-2.2zM74.3 83.2h2.2v2.2h-2.2zM86.2 86.3h2.2v2.2h-2.2zM83.0 89.0h2.2v2.2h-2.2zM88.9 91.5h2.2v2.2h-2.2zM92.4 94.7h2.2v2.2h-2.2zM53.5 110.2h2.2v2.2h-2.2zM56.0 119.6h2.2v2.2h-2.2zM59.7 119.0h2.2v2.2h-2.2zM60.2 124.4h2.2v2.2h-2.2zM159.9 5.8h2.2v2.2h-2.2zM218.9 29.0h2.2v2.2h-2.2zM152.0 71.7h2.2v2.2h-2.2zM157.2 76.9h2.2v2.2h-2.2zM151.4 82.1h2.2v2.2h-2.2zM164.5 83.7h2.2v2.2h-2.2zM151.4 82.2h2.2v2.2h-2.2zM158.7 85.7h2.2v2.2h-2.2zM156.2 88.4h2.2v2.2h-2.2zM163.9 84.3h2.2v2.2h-2.2zM165.9 88.4h2.2v2.2h-2.2zM171.1 100.5h2.2v2.2h-2.2zM155.1 168.5h2.2v2.2h-2.2zM71.0 167.9h2.2v2.2h-2.2zM40.5 179.3h2.2v2.2h-2.2zM68.5 183.0h2.2v2.2h-2.2zM83.7 179.9h2.2v2.2h-2.2zM78.3 185.5h2.2v2.2h-2.2zM76.3 19.3h2.2v2.2h-2.2zM76.6 29.3h2.2v2.2h-2.2zM68.4 28.0h2.2v2.2h-2.2zM92.2 20.4h2.2v2.2h-2.2zM91.3 22.5h2.2v2.2h-2.2zM83.9 23.2h2.2v2.2h-2.2zM59.8 15.2h2.2v2.2h-2.2zM85.2 19.5h2.2v2.2h-2.2zM59.5 46.5h2.2v2.2h-2.2zM68.9 31.1h2.2v2.2h-2.2zM82.8 26.0h2.2v2.2h-2.2zM85.3 33.2h2.2v2.2h-2.2zM82.8 20.7h2.2v2.2h-2.2zM85.7 11.1h2.2v2.2h-2.2zM72.0 34.4h2.2v2.2h-2.2zM75.2 26.8h2.2v2.2h-2.2zM86.6 22.5h2.2v2.2h-2.2zM74.0 37.0h2.2v2.2h-2.2zM73.2 10.8h2.2v2.2h-2.2zM69.8 22.5h2.2v2.2h-2.2zM84.2 43.4h2.2v2.2h-2.2zM79.8 9.7h2.2v2.2h-2.2zM55.8 29.4h2.2v2.2h-2.2zM78.0 35.3h2.2v2.2h-2.2zM85.0 26.2h2.2v2.2h-2.2zM62.2 15.5h2.2v2.2h-2.2zM87.1 14.1h2.2v2.2h-2.2zM96.0 21.1h2.2v2.2h-2.2zM80.6 41.1h2.2v2.2h-2.2zM86.4 32.8h2.2v2.2h-2.2zM74.0 40.7h2.2v2.2h-2.2zM68.0 31.9h2.2v2.2h-2.2zM62.3 22.6h2.2v2.2h-2.2zM83.4 34.3h2.2v2.2h-2.2zM66.2 13.7h2.2v2.2h-2.2zM92.1 23.6h2.2v2.2h-2.2zM82.1 20.2h2.2v2.2h-2.2zM85.3 18.9h2.2v2.2h-2.2zM61.0 10.0h2.2v2.2h-2.2zM90.4 19.1h2.2v2.2h-2.2zM56.2 33.1h2.2v2.2h-2.2zM77.1 13.2h2.2v2.2h-2.2zM64.0 6.1h2.2v2.2h-2.2zM85.7 27.3h2.2v2.2h-2.2zM83.0 17.6h2.2v2.2h-2.2zM80.7 11.7h2.2v2.2h-2.2zM71.5 30.5h2.2v2.2h-2.2zM91.4 25.2h2.2v2.2h-2.2zM69.0 14.1h2.2v2.2h-2.2zM96.3 30.8h2.2v2.2h-2.2zM63.2 27.1h2.2v2.2h-2.2zM77.5 29.1h2.2v2.2h-2.2zM70.1 17.9h2.2v2.2h-2.2zM92.4 15.1h2.2v2.2h-2.2zM83.3 23.8h2.2v2.2h-2.2zM81.0 18.5h2.2v2.2h-2.2zM77.2 22.1h2.2v2.2h-2.2zM85.9 25.5h2.2v2.2h-2.2zM88.2 18.7h2.2v2.2h-2.2zM74.3 30.0h2.2v2.2h-2.2zM79.1 14.3h2.2v2.2h-2.2zM75.3 20.8h2.2v2.2h-2.2zM66.1 22.5h2.2v2.2h-2.2zM83.9 22.6h2.2v2.2h-2.2zM74.2 17.6h2.2v2.2h-2.2zM82.5 31.8h2.2v2.2h-2.2zM72.8 26.7h2.2v2.2h-2.2zM76.6 26.2h2.2v2.2h-2.2zM47.4 31.3h2.2v2.2h-2.2zM91.0 39.6h2.2v2.2h-2.2zM78.5 14.0h2.2v2.2h-2.2zM59.4 29.7h2.2v2.2h-2.2zM75.3 18.0h2.2v2.2h-2.2zM81.3 11.1h2.2v2.2h-2.2zM77.5 23.2h2.2v2.2h-2.2zM88.5 23.8h2.2v2.2h-2.2zM78.2 7.0h2.2v2.2h-2.2zM91.5 29.0h2.2v2.2h-2.2zM89.9 28.7h2.2v2.2h-2.2zM80.8 17.0h2.2v2.2h-2.2zM81.8 17.8h2.2v2.2h-2.2zM61.4 43.7h2.2v2.2h-2.2zM86.4 37.1h2.2v2.2h-2.2zM67.3 43.2h2.2v2.2h-2.2zM79.3 39.2h2.2v2.2h-2.2zM68.9 6.7h2.2v2.2h-2.2zM90.8 27.6h2.2v2.2h-2.2zM56.3 8.5h2.2v2.2h-2.2zM78.1 32.7h2.2v2.2h-2.2zM83.9 20.5h2.2v2.2h-2.2zM96.2 27.7h2.2v2.2h-2.2zM70.6 13.2h2.2v2.2h-2.2zM80.6 24.0h2.2v2.2h-2.2zM95.9 28.7h2.2v2.2h-2.2zM52.5 30.1h2.2v2.2h-2.2zM57.6 15.6h2.2v2.2h-2.2zM82.9 32.8h2.2v2.2h-2.2zM79.1 15.4h2.2v2.2h-2.2zM80.2 9.5h2.2v2.2h-2.2zM78.5 12.9h2.2v2.2h-2.2zM71.4 14.9h2.2v2.2h-2.2zM57.4 38.5h2.2v2.2h-2.2zM56.4 12.6h2.2v2.2h-2.2zM64.9 25.6h2.2v2.2h-2.2zM77.0 25.8h2.2v2.2h-2.2zM72.4 22.7h2.2v2.2h-2.2zM85.4 13.4h2.2v2.2h-2.2zM76.9 40.7h2.2v2.2h-2.2zM72.8 12.5h2.2v2.2h-2.2zM60.1 32.7h2.2v2.2h-2.2zM91.0 15.9h2.2v2.2h-2.2zM79.3 15.8h2.2v2.2h-2.2zM81.2 39.7h2.2v2.2h-2.2zM61.0 33.2h2.2v2.2h-2.2zM90.0 32.3h2.2v2.2h-2.2zM68.7 34.8h2.2v2.2h-2.2zM61.4 26.9h2.2v2.2h-2.2zM65.5 21.1h2.2v2.2h-2.2zM51.7 21.5h2.2v2.2h-2.2zM87.7 28.8h2.2v2.2h-2.2zM53.2 36.0h2.2v2.2h-2.2zM82.6 31.0h2.2v2.2h-2.2zM88.3 16.5h2.2v2.2h-2.2zM87.0 21.5h2.2v2.2h-2.2zM75.8 31.1h2.2v2.2h-2.2zM68.4 17.2h2.2v2.2h-2.2zM85.8 14.6h2.2v2.2h-2.2zM68.7 26.6h2.2v2.2h-2.2zM82.7 15.5h2.2v2.2h-2.2zM78.8 27.8h2.2v2.2h-2.2zM67.4 29.8h2.2v2.2h-2.2zM89.6 24.3h2.2v2.2h-2.2zM69.3 35.6h2.2v2.2h-2.2zM86.5 19.7h2.2v2.2h-2.2zM78.5 19.2h2.2v2.2h-2.2zM56.6 13.0h2.2v2.2h-2.2zM83.0 33.9h2.2v2.2h-2.2zM62.9 33.5h2.2v2.2h-2.2zM82.6 23.3h2.2v2.2h-2.2zM74.6 37.2h2.2v2.2h-2.2zM65.3 41.7h2.2v2.2h-2.2zM69.1 22.3h2.2v2.2h-2.2zM54.1 34.5h2.2v2.2h-2.2zM78.6 19.2h2.2v2.2h-2.2zM70.8 27.0h2.2v2.2h-2.2zM84.6 20.9h2.2v2.2h-2.2zM86.7 23.0h2.2v2.2h-2.2zM75.5 16.0h2.2v2.2h-2.2zM79.8 35.4h2.2v2.2h-2.2zM72.0 25.5h2.2v2.2h-2.2zM56.3 44.8h2.2v2.2h-2.2zM50.1 44.9h2.2v2.2h-2.2zM80.8 23.4h2.2v2.2h-2.2zM46.2 26.5h2.2v2.2h-2.2zM86.3 28.2h2.2v2.2h-2.2zM65.7 12.0h2.2v2.2h-2.2zM59.2 25.2h2.2v2.2h-2.2zM77.9 6.1h2.2v2.2h-2.2zM56.0 12.1h2.2v2.2h-2.2zM79.1 20.0h2.2v2.2h-2.2zM59.9 31.6h2.2v2.2h-2.2zM38.7 15.8h2.2v2.2h-2.2zM50.5 39.0h2.2v2.2h-2.2zM39.6 11.8h2.2v2.2h-2.2zM89.6 18.6h2.2v2.2h-2.2zM52.1 35.8h2.2v2.2h-2.2zM52.8 27.1h2.2v2.2h-2.2zM44.2 27.7h2.2v2.2h-2.2zM50.9 6.9h2.2v2.2h-2.2zM96.1 23.6h2.2v2.2h-2.2zM49.7 6.8h2.2v2.2h-2.2zM53.9 31.2h2.2v2.2h-2.2zM64.4 25.4h2.2v2.2h-2.2zM47.0 25.3h2.2v2.2h-2.2zM39.9 29.5h2.2v2.2h-2.2zM53.5 36.2h2.2v2.2h-2.2zM71.4 24.3h2.2v2.2h-2.2zM81.9 19.2h2.2v2.2h-2.2zM79.7 10.3h2.2v2.2h-2.2zM59.0 32.5h2.2v2.2h-2.2zM80.3 19.7h2.2v2.2h-2.2zM37.0 12.0h2.2v2.2h-2.2zM90.9 20.4h2.2v2.2h-2.2zM80.9 12.9h2.2v2.2h-2.2zM43.1 24.5h2.2v2.2h-2.2zM66.3 12.0h2.2v2.2h-2.2zM85.4 12.4h2.2v2.2h-2.2zM71.3 9.7h2.2v2.2h-2.2zM77.6 17.7h2.2v2.2h-2.2zM42.7 31.1h2.2v2.2h-2.2zM40.9 12.0h2.2v2.2h-2.2zM69.7 20.3h2.2v2.2h-2.2zM74.0 18.2h2.2v2.2h-2.2zM65.3 45.4h2.2v2.2h-2.2zM84.9 15.5h2.2v2.2h-2.2zM66.2 24.1h2.2v2.2h-2.2zM76.1 42.9h2.2v2.2h-2.2zM81.1 35.4h2.2v2.2h-2.2zM80.6 37.3h2.2v2.2h-2.2zM81.3 6.4h2.2v2.2h-2.2zM65.6 30.2h2.2v2.2h-2.2zM64.7 18.1h2.2v2.2h-2.2zM83.0 20.8h2.2v2.2h-2.2zM75.1 42.4h2.2v2.2h-2.2zM43.6 35.4h2.2v2.2h-2.2zM81.5 33.3h2.2v2.2h-2.2zM70.3 45.1h2.2v2.2h-2.2zM76.9 17.8h2.2v2.2h-2.2zM77.2 33.9h2.2v2.2h-2.2zM67.1 26.9h2.2v2.2h-2.2zM63.9 40.8h2.2v2.2h-2.2zM91.0 37.6h2.2v2.2h-2.2zM86.3 6.7h2.2v2.2h-2.2zM62.8 34.8h2.2v2.2h-2.2zM47.5 7.6h2.2v2.2h-2.2zM47.6 22.2h2.2v2.2h-2.2zM43.2 24.5h2.2v2.2h-2.2zM86.4 25.1h2.2v2.2h-2.2zM90.6 17.3h2.2v2.2h-2.2zM48.9 9.5h2.2v2.2h-2.2zM65.1 44.6h2.2v2.2h-2.2zM62.9 33.4h2.2v2.2h-2.2zM43.1 31.7h2.2v2.2h-2.2zM54.3 11.8h2.2v2.2h-2.2zM34.3 15.4h2.2v2.2h-2.2zM91.5 33.9h2.2v2.2h-2.2zM57.9 29.8h2.2v2.2h-2.2zM97.7 21.9h2.2v2.2h-2.2zM57.1 28.4h2.2v2.2h-2.2zM51.7 43.6h2.2v2.2h-2.2zM40.7 12.0h2.2v2.2h-2.2zM52.4 8.0h2.2v2.2h-2.2zM50.1 34.9h2.2v2.2h-2.2zM66.7 37.9h2.2v2.2h-2.2zM57.9 7.2h2.2v2.2h-2.2zM90.4 13.0h2.2v2.2h-2.2zM74.3 8.9h2.2v2.2h-2.2zM94.0 23.5h2.2v2.2h-2.2zM80.0 43.6h2.2v2.2h-2.2zM80.8 27.5h2.2v2.2h-2.2zM82.1 19.7h2.2v2.2h-2.2zM52.4 43.6h2.2v2.2h-2.2zM64.2 31.8h2.2v2.2h-2.2zM53.1 15.9h2.2v2.2h-2.2zM96.3 35.1h2.2v2.2h-2.2zM75.9 33.5h2.2v2.2h-2.2zM69.6 29.7h2.2v2.2h-2.2zM44.8 39.1h2.2v2.2h-2.2zM47.4 9.2h2.2v2.2h-2.2zM65.8 36.7h2.2v2.2h-2.2zM81.8 51.9h2.2v2.2h-2.2zM85.4 50.2h2.2v2.2h-2.2zM83.3 50.5h2.2v2.2h-2.2zM84.8 47.7h2.2v2.2h-2.2zM74.5 59.3h2.2v2.2h-2.2zM84.5 60.3h2.2v2.2h-2.2zM79.0 48.7h2.2v2.2h-2.2zM91.2 112.4h2.2v2.2h-2.2zM94.2 117.3h2.2v2.2h-2.2zM92.8 117.1h2.2v2.2h-2.2zM88.0 110.9h2.2v2.2h-2.2zM91.9 117.5h2.2v2.2h-2.2zM92.9 114.0h2.2v2.2h-2.2zM90.6 111.6h2.2v2.2h-2.2zM95.5 122.0h2.2v2.2h-2.2zM91.8 116.0h2.2v2.2h-2.2zM96.3 119.8h2.2v2.2h-2.2zM92.7 119.1h2.2v2.2h-2.2zM91.6 115.3h2.2v2.2h-2.2zM89.8 107.7h2.2v2.2h-2.2zM90.7 120.6h2.2v2.2h-2.2zM93.4 117.9h2.2v2.2h-2.2zM93.6 116.2h2.2v2.2h-2.2zM87.4 110.8h2.2v2.2h-2.2zM94.5 120.9h2.2v2.2h-2.2zM86.5 113.9h2.2v2.2h-2.2zM89.2 111.0h2.2v2.2h-2.2zM96.9 120.1h2.2v2.2h-2.2zM96.6 113.0h2.2v2.2h-2.2zM89.1 114.6h2.2v2.2h-2.2zM94.1 116.3h2.2v2.2h-2.2zM86.9 113.7h2.2v2.2h-2.2zM92.9 115.9h2.2v2.2h-2.2zM87.9 111.4h2.2v2.2h-2.2zM91.2 113.0h2.2v2.2h-2.2zM91.2 115.1h2.2v2.2h-2.2zM92.8 112.7h2.2v2.2h-2.2zM94.6 120.3h2.2v2.2h-2.2zM92.5 119.1h2.2v2.2h-2.2zM93.3 114.5h2.2v2.2h-2.2zM94.9 120.7h2.2v2.2h-2.2zM91.9 114.8h2.2v2.2h-2.2zM87.9 110.5h2.2v2.2h-2.2zM90.7 112.7h2.2v2.2h-2.2zM85.0 114.5h2.2v2.2h-2.2zM92.3 115.1h2.2v2.2h-2.2zM92.0 112.4h2.2v2.2h-2.2zM89.9 115.3h2.2v2.2h-2.2zM90.0 119.0h2.2v2.2h-2.2zM89.9 113.2h2.2v2.2h-2.2zM93.6 118.3h2.2v2.2h-2.2zM91.3 117.2h2.2v2.2h-2.2zM95.6 114.0h2.2v2.2h-2.2zM94.4 109.9h2.2v2.2h-2.2zM90.1 113.3h2.2v2.2h-2.2zM94.1 114.5h2.2v2.2h-2.2zM84.5 114.3h2.2v2.2h-2.2zM94.8 116.2h2.2v2.2h-2.2zM98.3 113.7h2.2v2.2h-2.2zM92.7 115.6h2.2v2.2h-2.2zM94.8 117.8h2.2v2.2h-2.2zM93.7 122.3h2.2v2.2h-2.2zM84.2 118.9h2.2v2.2h-2.2zM93.1 118.4h2.2v2.2h-2.2zM98.2 115.3h2.2v2.2h-2.2zM91.2 115.7h2.2v2.2h-2.2zM88.8 114.9h2.2v2.2h-2.2zM91.3 112.4h2.2v2.2h-2.2zM91.9 115.4h2.2v2.2h-2.2zM93.0 113.5h2.2v2.2h-2.2zM92.7 117.1h2.2v2.2h-2.2zM93.1 117.7h2.2v2.2h-2.2zM91.5 109.7h2.2v2.2h-2.2zM91.1 118.1h2.2v2.2h-2.2zM95.1 118.3h2.2v2.2h-2.2zM90.7 108.1h2.2v2.2h-2.2zM94.3 115.2h2.2v2.2h-2.2zM91.9 116.2h2.2v2.2h-2.2zM89.5 109.1h2.2v2.2h-2.2zM91.2 115.8h2.2v2.2h-2.2zM92.8 116.3h2.2v2.2h-2.2zM92.8 118.0h2.2v2.2h-2.2zM87.6 118.2h2.2v2.2h-2.2zM91.9 113.0h2.2v2.2h-2.2zM94.5 120.1h2.2v2.2h-2.2zM94.4 112.8h2.2v2.2h-2.2zM92.3 113.3h2.2v2.2h-2.2zM96.1 120.6h2.2v2.2h-2.2zM93.5 120.2h2.2v2.2h-2.2zM92.1 116.1h2.2v2.2h-2.2zM94.1 114.1h2.2v2.2h-2.2zM96.6 123.8h2.2v2.2h-2.2zM91.2 112.8h2.2v2.2h-2.2zM89.9 111.3h2.2v2.2h-2.2zM92.7 117.5h2.2v2.2h-2.2zM90.1 119.2h2.2v2.2h-2.2zM90.7 119.9h2.2v2.2h-2.2zM88.9 113.9h2.2v2.2h-2.2zM92.3 112.9h2.2v2.2h-2.2zM91.2 116.1h2.2v2.2h-2.2zM96.1 114.9h2.2v2.2h-2.2zM92.4 114.8h2.2v2.2h-2.2zM95.4 118.9h2.2v2.2h-2.2zM93.1 107.8h2.2v2.2h-2.2zM93.7 125.1h2.2v2.2h-2.2zM92.4 114.6h2.2v2.2h-2.2zM95.5 117.5h2.2v2.2h-2.2zM89.0 115.9h2.2v2.2h-2.2zM93.9 114.2h2.2v2.2h-2.2zM86.9 113.3h2.2v2.2h-2.2zM88.0 117.9h2.2v2.2h-2.2zM90.2 115.1h2.2v2.2h-2.2zM91.5 117.7h2.2v2.2h-2.2zM88.7 113.1h2.2v2.2h-2.2zM90.3 116.1h2.2v2.2h-2.2zM93.2 114.3h2.2v2.2h-2.2zM98.0 116.7h2.2v2.2h-2.2zM88.9 113.4h2.2v2.2h-2.2zM88.9 104.8h2.2v2.2h-2.2zM89.8 113.1h2.2v2.2h-2.2zM90.5 118.9h2.2v2.2h-2.2zM92.9 116.8h2.2v2.2h-2.2zM87.5 109.1h2.2v2.2h-2.2zM91.3 121.7h2.2v2.2h-2.2zM94.2 117.6h2.2v2.2h-2.2zM93.8 116.2h2.2v2.2h-2.2zM94.7 119.8h2.2v2.2h-2.2zM89.7 114.8h2.2v2.2h-2.2zM87.8 114.5h2.2v2.2h-2.2zM89.3 103.8h2.2v2.2h-2.2zM87.8 111.3h2.2v2.2h-2.2zM77.0 101.0h2.2v2.2h-2.2zM89.1 107.5h2.2v2.2h-2.2zM89.4 109.9h2.2v2.2h-2.2zM88.8 105.0h2.2v2.2h-2.2zM82.0 106.0h2.2v2.2h-2.2zM90.9 114.0h2.2v2.2h-2.2zM82.5 106.9h2.2v2.2h-2.2zM85.7 104.8h2.2v2.2h-2.2zM84.6 112.6h2.2v2.2h-2.2zM88.5 110.5h2.2v2.2h-2.2zM81.7 99.2h2.2v2.2h-2.2zM83.1 106.4h2.2v2.2h-2.2zM93.6 111.1h2.2v2.2h-2.2zM82.7 102.1h2.2v2.2h-2.2zM86.3 97.3h2.2v2.2h-2.2zM85.7 102.1h2.2v2.2h-2.2zM83.9 101.7h2.2v2.2h-2.2zM84.3 103.8h2.2v2.2h-2.2zM83.4 108.4h2.2v2.2h-2.2zM98.3 123.1h2.2v2.2h-2.2zM78.2 94.5h2.2v2.2h-2.2zM78.5 93.4h2.2v2.2h-2.2zM82.6 103.4h2.2v2.2h-2.2zM93.2 116.6h2.2v2.2h-2.2zM73.2 100.9h2.2v2.2h-2.2zM94.4 114.9h2.2v2.2h-2.2zM83.0 100.4h2.2v2.2h-2.2zM90.1 110.2h2.2v2.2h-2.2zM71.7 92.2h2.2v2.2h-2.2zM92.7 112.9h2.2v2.2h-2.2zM84.5 118.6h2.2v2.2h-2.2zM87.8 108.1h2.2v2.2h-2.2zM83.8 105.4h2.2v2.2h-2.2zM89.6 115.0h2.2v2.2h-2.2zM90.3 117.5h2.2v2.2h-2.2zM85.8 110.7h2.2v2.2h-2.2zM84.8 110.2h2.2v2.2h-2.2zM79.1 94.4h2.2v2.2h-2.2zM86.0 111.0h2.2v2.2h-2.2zM89.3 107.4h2.2v2.2h-2.2zM79.6 101.0h2.2v2.2h-2.2zM90.1 110.7h2.2v2.2h-2.2zM78.3 109.3h2.2v2.2h-2.2zM93.7 116.1h2.2v2.2h-2.2zM85.0 108.4h2.2v2.2h-2.2zM86.1 110.5h2.2v2.2h-2.2zM77.8 101.8h2.2v2.2h-2.2zM80.6 104.6h2.2v2.2h-2.2zM80.5 98.3h2.2v2.2h-2.2zM79.7 97.2h2.2v2.2h-2.2zM80.6 99.9h2.2v2.2h-2.2zM94.1 117.3h2.2v2.2h-2.2zM81.5 102.5h2.2v2.2h-2.2zM82.1 112.0h2.2v2.2h-2.2zM82.5 103.1h2.2v2.2h-2.2zM83.1 104.3h2.2v2.2h-2.2zM91.8 111.6h2.2v2.2h-2.2zM92.4 113.2h2.2v2.2h-2.2zM83.9 105.8h2.2v2.2h-2.2zM83.2 106.4h2.2v2.2h-2.2zM80.2 109.7h2.2v2.2h-2.2zM83.6 105.5h2.2v2.2h-2.2zM79.9 100.9h2.2v2.2h-2.2zM88.2 111.8h2.2v2.2h-2.2zM79.8 109.7h2.2v2.2h-2.2zM98.0 109.9h2.2v2.2h-2.2zM71.4 89.6h2.2v2.2h-2.2zM87.9 112.1h2.2v2.2h-2.2zM83.2 115.9h2.2v2.2h-2.2zM91.5 113.2h2.2v2.2h-2.2zM84.3 109.0h2.2v2.2h-2.2zM88.1 113.3h2.2v2.2h-2.2zM85.6 110.3h2.2v2.2h-2.2zM72.5 91.8h2.2v2.2h-2.2zM88.7 107.9h2.2v2.2h-2.2zM80.4 101.6h2.2v2.2h-2.2zM89.6 111.9h2.2v2.2h-2.2zM97.9 113.0h2.2v2.2h-2.2zM75.5 104.8h2.2v2.2h-2.2zM94.4 111.1h2.2v2.2h-2.2zM93.0 112.9h2.2v2.2h-2.2zM80.2 104.7h2.2v2.2h-2.2zM88.5 115.8h2.2v2.2h-2.2zM72.5 96.6h2.2v2.2h-2.2zM79.8 104.2h2.2v2.2h-2.2zM85.1 110.8h2.2v2.2h-2.2zM85.9 111.2h2.2v2.2h-2.2zM76.0 84.7h2.2v2.2h-2.2zM73.5 93.8h2.2v2.2h-2.2zM74.7 101.1h2.2v2.2h-2.2zM75.1 105.6h2.2v2.2h-2.2zM62.8 92.4h2.2v2.2h-2.2zM76.7 99.3h2.2v2.2h-2.2zM81.4 103.9h2.2v2.2h-2.2zM66.6 96.2h2.2v2.2h-2.2zM59.8 82.6h2.2v2.2h-2.2zM83.2 101.5h2.2v2.2h-2.2zM74.7 99.5h2.2v2.2h-2.2zM83.7 107.6h2.2v2.2h-2.2zM85.4 103.4h2.2v2.2h-2.2zM85.6 95.7h2.2v2.2h-2.2zM70.3 96.5h2.2v2.2h-2.2zM66.0 96.5h2.2v2.2h-2.2zM98.2 105.1h2.2v2.2h-2.2zM80.0 97.4h2.2v2.2h-2.2zM90.0 106.1h2.2v2.2h-2.2zM78.4 115.7h2.2v2.2h-2.2zM74.4 92.3h2.2v2.2h-2.2zM87.9 111.5h2.2v2.2h-2.2zM68.2 94.1h2.2v2.2h-2.2zM66.8 98.0h2.2v2.2h-2.2zM84.2 115.3h2.2v2.2h-2.2zM89.1 90.2h2.2v2.2h-2.2zM87.4 108.3h2.2v2.2h-2.2zM74.4 92.7h2.2v2.2h-2.2zM92.3 110.7h2.2v2.2h-2.2zM86.6 110.0h2.2v2.2h-2.2zM79.3 105.0h2.2v2.2h-2.2zM87.2 97.5h2.2v2.2h-2.2zM65.6 87.9h2.2v2.2h-2.2zM75.1 104.4h2.2v2.2h-2.2zM78.8 93.6h2.2v2.2h-2.2zM95.1 113.9h2.2v2.2h-2.2zM70.2 109.5h2.2v2.2h-2.2zM91.4 115.8h2.2v2.2h-2.2zM70.0 104.5h2.2v2.2h-2.2zM69.9 104.2h2.2v2.2h-2.2zM79.8 98.3h2.2v2.2h-2.2zM78.4 98.8h2.2v2.2h-2.2zM78.4 86.1h2.2v2.2h-2.2zM61.4 102.4h2.2v2.2h-2.2z" fill="#000"/>
<path d="M165.6 11.6l1.3 2.4h-2.6zM166.6 16.4l1.3 2.4h-2.6zM167.2 20.5l1.3 2.4h-2.6zM190.5 11.6l1.3 2.4h-2.6zM193.0 13.3l1.3 2.4h-2.6zM166.2 92.4l1.3 2.4h-2.6zM177.0 99.0l1.3 2.4h-2.6zM218.6 159.5l1.3 2.4h-2.6zM175.4 185.3l1.3 2.4h-2.6zM218.6 160.0l1.3 2.4h-2.6zM33.3 179.1l1.3 2.4h-2.6zM36.7 5.4l1.3 2.4h-2.6z" fill="#000"/>
<rect x="138.0" y="29.8" width="2" height="2" fill="#8b0012"/>
<text class="ol" style="font-size:4.8px" x="126.5" y="28.7">LYS 524 (A)</text>
<rect x="148.4" y="39.1" width="2" height="2" fill="#8b0012"/>
<text class="ol" style="font-size:4.8px" x="136.9" y="38.7">ALA 521 (A)</text>
<rect x="177.5" y="43.7" width="2" height="2" fill="#8b0012"/>
<text class="ol" style="font-size:4.8px" x="165.6" y="43.9">ALA 525 (A)</text>
<rect x="152.1" y="48.9" width="2" height="2" fill="#8b0012"/>
<text class="ol" style="font-size:4.8px" x="140.6" y="48.6">ASN 526 (A)</text>
<rect x="156.9" y="125.5" width="2" height="2" fill="#8b0012"/>
<text class="ol" style="font-size:4.8px" x="145.8" y="125.1">SER 217 (A)</text>
<rect x="159.0" y="166.5" width="2" height="2" fill="#8b0012"/>
<text class="ol" style="font-size:4.8px" x="147.9" y="165.6">ASP 109 (A)</text>
<path d="M315.3 75.9h2.2v2.2h-2.2zM291.4 85.7h2.2v2.2h-2.2zM290.4 95.3h2.2v2.2h-2.2zM315.1 88.8h2.2v2.2h-2.2zM320.5 88.8h2.2v2.2h-2.2zM309.5 92.6h2.2v2.2h-2.2zM311.6 92.6h2.2v2.2h-2.2zM304.9 94.0h2.2v2.2h-2.2zM303.3 95.1h2.2v2.2h-2.2zM305.4 97.4h2.2v2.2h-2.2zM312.2 96.3h2.2v2.2h-2.2zM303.3 101.5h2.2v2.2h-2.2zM314.3 99.8h2.2v2.2h-2.2zM318.9 99.4h2.2v2.2h-2.2zM325.7 100.5h2.2v2.2h-2.2zM326.8 101.9h2.2v2.2h-2.2zM315.1 103.0h2.2v2.2h-2.2zM318.9 103.6h2.2v2.2h-2.2zM324.7 103.6h2.2v2.2h-2.2zM329.3 104.0h2.2v2.2h-2.2zM316.2 107.5h2.2v2.2h-2.2zM320.5 107.5h2.2v2.2h-2.2zM328.2 106.1h2.2v2.2h-2.2zM330.3 107.1h2.2v2.2h-2.2zM331.3 109.2h2.2v2.2h-2.2zM329.3 110.7h2.2v2.2h-2.2zM326.2 110.7h2.2v2.2h-2.2zM334.5 111.7h2.2v2.2h-2.2zM327.8 113.4h2.2v2.2h-2.2zM326.2 114.8h2.2v2.2h-2.2zM325.1 116.5h2.2v2.2h-2.2zM327.2 119.2h2.2v2.2h-2.2zM320.5 121.1h2.2v2.2h-2.2zM335.9 120.2h2.2v2.2h-2.2zM329.9 108.2h2.2v2.2h-2.2zM328.4 109.2h2.2v2.2h-2.2zM324.1 101.5h2.2v2.2h-2.2zM322.6 103.0h2.2v2.2h-2.2zM281.0 42.6h2.2v2.2h-2.2zM284.6 43.0h2.2v2.2h-2.2zM291.4 56.1h2.2v2.2h-2.2zM306.4 58.8h2.2v2.2h-2.2zM309.5 53.4h2.2v2.2h-2.2zM314.3 53.4h2.2v2.2h-2.2zM315.1 75.2h2.2v2.2h-2.2zM321.6 47.8h2.2v2.2h-2.2zM322.6 49.8h2.2v2.2h-2.2zM323.0 53.0h2.2v2.2h-2.2zM323.4 55.4h2.2v2.2h-2.2zM323.0 59.2h2.2v2.2h-2.2zM322.6 62.3h2.2v2.2h-2.2zM327.2 48.8h2.2v2.2h-2.2zM328.6 54.0h2.2v2.2h-2.2zM295.4 49.8h2.2v2.2h-2.2zM299.1 42.6h2.2v2.2h-2.2zM329.3 41.5h2.2v2.2h-2.2zM334.5 38.4h2.2v2.2h-2.2zM393.9 53.0h2.2v2.2h-2.2zM393.3 54.2h2.2v2.2h-2.2zM388.1 72.1h2.2v2.2h-2.2zM389.3 73.3h2.2v2.2h-2.2zM393.9 78.9h2.2v2.2h-2.2zM392.2 83.7h2.2v2.2h-2.2zM399.5 84.1h2.2v2.2h-2.2zM393.9 79.1h2.2v2.2h-2.2zM392.2 83.6h2.2v2.2h-2.2zM399.5 84.7h2.2v2.2h-2.2zM393.3 87.8h2.2v2.2h-2.2zM394.3 89.0h2.2v2.2h-2.2zM398.5 89.9h2.2v2.2h-2.2zM302.5 26.9h2.2v2.2h-2.2zM290.0 19.6h2.2v2.2h-2.2zM309.4 32.2h2.2v2.2h-2.2zM308.1 13.5h2.2v2.2h-2.2zM318.1 28.0h2.2v2.2h-2.2zM309.1 24.6h2.2v2.2h-2.2zM308.1 18.3h2.2v2.2h-2.2zM300.5 37.6h2.2v2.2h-2.2zM305.0 28.6h2.2v2.2h-2.2zM316.5 30.7h2.2v2.2h-2.2zM314.4 10.5h2.2v2.2h-2.2zM287.7 24.2h2.2v2.2h-2.2zM277.4 10.2h2.2v2.2h-2.2zM292.8 31.2h2.2v2.2h-2.2zM284.4 10.9h2.2v2.2h-2.2zM293.8 21.0h2.2v2.2h-2.2zM315.6 16.6h2.2v2.2h-2.2zM310.0 22.8h2.2v2.2h-2.2zM303.2 18.6h2.2v2.2h-2.2zM312.0 24.5h2.2v2.2h-2.2zM296.2 28.6h2.2v2.2h-2.2zM295.2 29.7h2.2v2.2h-2.2zM328.4 26.8h2.2v2.2h-2.2zM290.6 7.6h2.2v2.2h-2.2zM317.6 40.1h2.2v2.2h-2.2zM316.8 23.6h2.2v2.2h-2.2zM310.9 23.3h2.2v2.2h-2.2zM321.2 38.5h2.2v2.2h-2.2zM283.9 24.8h2.2v2.2h-2.2zM296.8 23.8h2.2v2.2h-2.2zM313.8 23.6h2.2v2.2h-2.2zM306.3 27.6h2.2v2.2h-2.2zM302.1 14.7h2.2v2.2h-2.2zM319.9 26.9h2.2v2.2h-2.2zM305.4 11.7h2.2v2.2h-2.2zM299.0 15.8h2.2v2.2h-2.2zM325.5 31.4h2.2v2.2h-2.2zM318.3 34.8h2.2v2.2h-2.2zM324.2 27.7h2.2v2.2h-2.2zM282.8 10.0h2.2v2.2h-2.2zM295.5 10.1h2.2v2.2h-2.2zM295.8 20.3h2.2v2.2h-2.2zM311.1 26.9h2.2v2.2h-2.2zM310.3 28.1h2.2v2.2h-2.2zM318.2 27.0h2.2v2.2h-2.2zM304.7 41.5h2.2v2.2h-2.2zM326.3 29.6h2.2v2.2h-2.2zM278.4 12.4h2.2v2.2h-2.2zM317.2 19.2h2.2v2.2h-2.2zM293.0 7.4h2.2v2.2h-2.2zM309.9 7.4h2.2v2.2h-2.2zM306.3 18.1h2.2v2.2h-2.2zM298.8 28.0h2.2v2.2h-2.2zM327.1 23.8h2.2v2.2h-2.2zM334.2 26.6h2.2v2.2h-2.2zM294.3 30.3h2.2v2.2h-2.2zM295.2 23.7h2.2v2.2h-2.2zM295.2 14.9h2.2v2.2h-2.2zM312.0 26.7h2.2v2.2h-2.2zM309.7 25.1h2.2v2.2h-2.2zM312.4 19.7h2.2v2.2h-2.2zM321.4 32.9h2.2v2.2h-2.2zM285.8 5.7h2.2v2.2h-2.2zM311.5 16.9h2.2v2.2h-2.2zM279.7 15.9h2.2v2.2h-2.2zM304.5 32.3h2.2v2.2h-2.2zM300.4 15.7h2.2v2.2h-2.2zM328.3 19.4h2.2v2.2h-2.2zM290.1 27.0h2.2v2.2h-2.2zM317.8 20.3h2.2v2.2h-2.2zM307.6 32.4h2.2v2.2h-2.2zM321.7 22.7h2.2v2.2h-2.2zM315.2 29.4h2.2v2.2h-2.2zM313.9 20.0h2.2v2.2h-2.2zM294.1 31.5h2.2v2.2h-2.2zM313.7 22.1h2.2v2.2h-2.2zM309.4 17.7h2.2v2.2h-2.2zM297.5 20.3h2.2v2.2h-2.2zM303.5 17.9h2.2v2.2h-2.2zM332.7 33.8h2.2v2.2h-2.2zM321.4 24.0h2.2v2.2h-2.2zM303.1 29.1h2.2v2.2h-2.2zM317.9 17.5h2.2v2.2h-2.2zM316.9 23.6h2.2v2.2h-2.2zM304.3 21.0h2.2v2.2h-2.2zM286.3 8.5h2.2v2.2h-2.2zM298.1 27.7h2.2v2.2h-2.2zM293.2 24.0h2.2v2.2h-2.2zM323.5 21.5h2.2v2.2h-2.2zM287.1 9.7h2.2v2.2h-2.2zM320.5 31.8h2.2v2.2h-2.2zM281.4 19.3h2.2v2.2h-2.2zM297.6 17.4h2.2v2.2h-2.2zM297.0 33.8h2.2v2.2h-2.2zM307.7 34.1h2.2v2.2h-2.2zM319.4 35.8h2.2v2.2h-2.2zM294.1 24.5h2.2v2.2h-2.2zM301.2 12.0h2.2v2.2h-2.2zM322.5 24.3h2.2v2.2h-2.2zM309.1 34.6h2.2v2.2h-2.2zM297.5 23.6h2.2v2.2h-2.2zM292.4 14.4h2.2v2.2h-2.2zM293.6 23.4h2.2v2.2h-2.2zM285.7 30.0h2.2v2.2h-2.2zM319.9 18.3h2.2v2.2h-2.2zM308.0 30.2h2.2v2.2h-2.2zM327.7 28.3h2.2v2.2h-2.2zM325.6 19.3h2.2v2.2h-2.2zM324.7 32.3h2.2v2.2h-2.2zM326.1 24.3h2.2v2.2h-2.2zM281.3 16.9h2.2v2.2h-2.2zM283.8 15.7h2.2v2.2h-2.2zM314.4 33.1h2.2v2.2h-2.2zM316.6 16.2h2.2v2.2h-2.2zM288.0 9.0h2.2v2.2h-2.2zM304.4 20.3h2.2v2.2h-2.2zM306.9 16.1h2.2v2.2h-2.2zM324.4 28.5h2.2v2.2h-2.2zM286.7 10.8h2.2v2.2h-2.2zM301.0 16.6h2.2v2.2h-2.2zM315.1 14.6h2.2v2.2h-2.2zM324.8 32.5h2.2v2.2h-2.2zM316.8 14.2h2.2v2.2h-2.2zM299.4 17.4h2.2v2.2h-2.2zM329.4 22.1h2.2v2.2h-2.2zM312.8 34.3h2.2v2.2h-2.2zM287.2 14.5h2.2v2.2h-2.2zM319.1 9.5h2.2v2.2h-2.2zM295.7 11.2h2.2v2.2h-2.2zM316.2 38.0h2.2v2.2h-2.2zM294.3 17.5h2.2v2.2h-2.2zM298.9 21.3h2.2v2.2h-2.2zM313.2 30.9h2.2v2.2h-2.2zM313.5 29.8h2.2v2.2h-2.2zM299.5 16.7h2.2v2.2h-2.2zM298.5 18.1h2.2v2.2h-2.2zM333.4 32.1h2.2v2.2h-2.2zM306.5 17.8h2.2v2.2h-2.2zM303.6 14.4h2.2v2.2h-2.2zM287.7 12.0h2.2v2.2h-2.2zM297.1 25.2h2.2v2.2h-2.2zM337.4 29.1h2.2v2.2h-2.2zM328.8 37.5h2.2v2.2h-2.2zM330.0 20.9h2.2v2.2h-2.2zM305.1 23.3h2.2v2.2h-2.2zM299.0 24.7h2.2v2.2h-2.2zM315.2 23.7h2.2v2.2h-2.2zM313.9 13.5h2.2v2.2h-2.2zM302.9 18.4h2.2v2.2h-2.2zM328.9 37.7h2.2v2.2h-2.2zM328.2 17.7h2.2v2.2h-2.2zM282.7 22.3h2.2v2.2h-2.2zM286.3 28.7h2.2v2.2h-2.2zM310.6 37.3h2.2v2.2h-2.2zM318.6 17.0h2.2v2.2h-2.2zM280.2 15.9h2.2v2.2h-2.2zM277.6 7.4h2.2v2.2h-2.2zM294.6 20.6h2.2v2.2h-2.2zM309.3 20.1h2.2v2.2h-2.2zM301.6 21.1h2.2v2.2h-2.2zM298.6 19.3h2.2v2.2h-2.2zM288.2 16.1h2.2v2.2h-2.2zM274.6 15.2h2.2v2.2h-2.2zM287.2 14.4h2.2v2.2h-2.2zM287.8 27.9h2.2v2.2h-2.2zM296.8 14.4h2.2v2.2h-2.2zM313.3 26.0h2.2v2.2h-2.2zM289.8 24.6h2.2v2.2h-2.2zM329.8 29.3h2.2v2.2h-2.2zM287.1 30.9h2.2v2.2h-2.2zM294.4 4.6h2.2v2.2h-2.2zM305.4 24.8h2.2v2.2h-2.2zM318.0 19.1h2.2v2.2h-2.2zM294.9 9.5h2.2v2.2h-2.2zM296.5 25.2h2.2v2.2h-2.2zM306.3 13.2h2.2v2.2h-2.2zM287.0 26.8h2.2v2.2h-2.2zM300.0 22.0h2.2v2.2h-2.2zM324.6 32.6h2.2v2.2h-2.2zM324.7 28.1h2.2v2.2h-2.2zM304.9 33.5h2.2v2.2h-2.2zM305.1 4.9h2.2v2.2h-2.2zM314.1 12.3h2.2v2.2h-2.2zM294.4 31.6h2.2v2.2h-2.2zM292.4 20.7h2.2v2.2h-2.2zM312.9 12.7h2.2v2.2h-2.2zM276.6 15.2h2.2v2.2h-2.2zM328.2 22.3h2.2v2.2h-2.2zM330.4 19.8h2.2v2.2h-2.2zM314.3 12.5h2.2v2.2h-2.2zM329.7 19.7h2.2v2.2h-2.2zM311.8 19.0h2.2v2.2h-2.2zM316.7 20.3h2.2v2.2h-2.2zM315.7 35.9h2.2v2.2h-2.2zM314.9 25.9h2.2v2.2h-2.2zM320.7 40.4h2.2v2.2h-2.2zM321.5 7.4h2.2v2.2h-2.2zM314.2 29.5h2.2v2.2h-2.2zM324.4 12.6h2.2v2.2h-2.2zM308.5 34.0h2.2v2.2h-2.2zM292.6 27.4h2.2v2.2h-2.2zM293.6 27.0h2.2v2.2h-2.2zM313.4 6.6h2.2v2.2h-2.2zM323.6 21.1h2.2v2.2h-2.2zM330.3 26.4h2.2v2.2h-2.2zM310.3 6.4h2.2v2.2h-2.2zM334.0 25.2h2.2v2.2h-2.2zM299.4 40.3h2.2v2.2h-2.2zM313.5 35.9h2.2v2.2h-2.2zM274.5 16.7h2.2v2.2h-2.2zM281.6 5.3h2.2v2.2h-2.2zM279.6 9.2h2.2v2.2h-2.2zM318.1 34.6h2.2v2.2h-2.2zM319.0 36.9h2.2v2.2h-2.2zM277.2 13.1h2.2v2.2h-2.2zM322.3 58.0h2.2v2.2h-2.2zM318.1 63.8h2.2v2.2h-2.2zM313.3 50.0h2.2v2.2h-2.2zM322.4 55.8h2.2v2.2h-2.2z" fill="#000"/>
<path d="M410.4 27.8l1.3 2.4h-2.6zM411.0 117.3l1.3 2.4h-2.6zM387.7 157.4l1.3 2.4h-2.6zM387.7 157.5l1.3 2.4h-2.6zM393.3 174.5l1.3 2.4h-2.6zM275.3 180.8l1.3 2.4h-2.6zM320.0 173.5l1.3 2.4h-2.6z" fill="#000"/>
<rect x="434.5" y="22.3" width="2" height="2" fill="#8b0012"/>
<text class="ol" style="font-size:4.5px" x="424.1" y="21.4">MET 13 (A)</text>
<rect x="401.7" y="33.7" width="2" height="2" fill="#8b0012"/>
<text class="ol" style="font-size:4.5px" x="391.3" y="32.8">LEU 22 (A)</text>
<rect x="382.4" y="36.4" width="2" height="2" fill="#8b0012"/>
<text class="ol" style="font-size:4.5px" x="373.0" y="35.1">ALA 8 (A)</text>
<rect x="406.9" y="48.9" width="2" height="2" fill="#8b0012"/>
<text class="ol" style="font-size:4.5px" x="397.1" y="49.1">LEU 48 (A)</text>
<rect x="409.0" y="49.9" width="2" height="2" fill="#8b0012"/>
<text class="ol" style="font-size:4.5px" x="399.2" y="49.7">LYS 46 (A)</text>
<rect x="420.4" y="55.5" width="2" height="2" fill="#8b0012"/>
<text class="ol" style="font-size:4.5px" x="410.0" y="54.9">GLN 31 (A)</text>
<rect x="401.7" y="61.0" width="2" height="2" fill="#8b0012"/>
<text class="ol" style="font-size:4.5px" x="391.7" y="60.5">LEU 41 (A)</text>
<rect x="435.0" y="65.5" width="2" height="2" fill="#8b0012"/>
<text class="ol" style="font-size:4.5px" x="424.9" y="65.1">PHE 73 (A)</text>
<path d="M522.9 77.4h2.2v2.2h-2.2zM528.5 79.5h2.2v2.2h-2.2zM535.4 79.5h2.2v2.2h-2.2zM518.3 88.0h2.2v2.2h-2.2zM547.4 87.8h2.2v2.2h-2.2zM533.9 90.5h2.2v2.2h-2.2zM534.9 91.9h2.2v2.2h-2.2zM540.6 93.0h2.2v2.2h-2.2zM523.5 94.7h2.2v2.2h-2.2zM539.5 96.3h2.2v2.2h-2.2zM541.6 97.8h2.2v2.2h-2.2zM532.2 99.4h2.2v2.2h-2.2zM545.1 98.4h2.2v2.2h-2.2zM549.9 98.4h2.2v2.2h-2.2zM553.0 99.4h2.2v2.2h-2.2zM536.4 101.9h2.2v2.2h-2.2zM541.6 101.5h2.2v2.2h-2.2zM546.8 101.9h2.2v2.2h-2.2zM543.1 104.4h2.2v2.2h-2.2zM547.8 104.4h2.2v2.2h-2.2zM553.0 104.0h2.2v2.2h-2.2zM556.2 104.6h2.2v2.2h-2.2zM544.3 107.1h2.2v2.2h-2.2zM547.8 107.7h2.2v2.2h-2.2zM553.0 107.7h2.2v2.2h-2.2zM557.2 109.2h2.2v2.2h-2.2zM555.1 110.7h2.2v2.2h-2.2zM507.7 40.1h2.2v2.2h-2.2zM511.5 41.5h2.2v2.2h-2.2zM513.1 41.9h2.2v2.2h-2.2zM523.9 54.0h2.2v2.2h-2.2zM524.6 58.2h2.2v2.2h-2.2zM539.5 54.0h2.2v2.2h-2.2zM536.8 59.2h2.2v2.2h-2.2zM546.4 54.6h2.2v2.2h-2.2zM550.5 50.3h2.2v2.2h-2.2zM553.4 48.8h2.2v2.2h-2.2zM552.6 53.4h2.2v2.2h-2.2zM549.9 63.8h2.2v2.2h-2.2zM564.5 42.1h2.2v2.2h-2.2zM564.5 18.0h2.2v2.2h-2.2zM546.8 46.7h2.2v2.2h-2.2zM541.6 47.8h2.2v2.2h-2.2zM555.7 45.1h2.2v2.2h-2.2zM518.7 41.5h2.2v2.2h-2.2zM654.6 25.3h2.2v2.2h-2.2zM652.9 33.2h2.2v2.2h-2.2zM676.0 17.2h2.2v2.2h-2.2zM636.9 43.0h2.2v2.2h-2.2zM633.8 54.0h2.2v2.2h-2.2zM624.0 47.8h2.2v2.2h-2.2zM615.1 76.2h2.2v2.2h-2.2zM624.4 84.1h2.2v2.2h-2.2zM614.7 76.6h2.2v2.2h-2.2zM625.5 85.3h2.2v2.2h-2.2zM626.1 87.8h2.2v2.2h-2.2zM549.5 33.2h2.2v2.2h-2.2zM556.6 21.2h2.2v2.2h-2.2zM549.8 26.5h2.2v2.2h-2.2zM552.9 18.8h2.2v2.2h-2.2zM549.1 13.5h2.2v2.2h-2.2zM553.3 17.9h2.2v2.2h-2.2zM544.5 23.5h2.2v2.2h-2.2zM552.4 13.4h2.2v2.2h-2.2zM546.5 22.3h2.2v2.2h-2.2zM539.8 27.2h2.2v2.2h-2.2zM554.7 20.9h2.2v2.2h-2.2zM545.9 23.4h2.2v2.2h-2.2zM549.2 7.2h2.2v2.2h-2.2zM552.7 16.3h2.2v2.2h-2.2zM538.5 12.8h2.2v2.2h-2.2zM547.9 35.2h2.2v2.2h-2.2zM553.5 39.7h2.2v2.2h-2.2zM550.1 16.0h2.2v2.2h-2.2zM543.8 43.5h2.2v2.2h-2.2zM543.8 42.4h2.2v2.2h-2.2zM546.6 22.8h2.2v2.2h-2.2zM537.4 23.6h2.2v2.2h-2.2zM551.8 27.3h2.2v2.2h-2.2zM542.1 11.9h2.2v2.2h-2.2zM560.8 34.0h2.2v2.2h-2.2zM551.5 38.8h2.2v2.2h-2.2zM542.0 18.4h2.2v2.2h-2.2zM549.4 22.7h2.2v2.2h-2.2zM559.3 27.4h2.2v2.2h-2.2zM546.3 35.7h2.2v2.2h-2.2zM547.5 32.9h2.2v2.2h-2.2zM539.3 10.5h2.2v2.2h-2.2zM549.8 42.5h2.2v2.2h-2.2zM547.4 15.0h2.2v2.2h-2.2zM554.8 32.5h2.2v2.2h-2.2zM553.1 19.3h2.2v2.2h-2.2zM551.1 18.0h2.2v2.2h-2.2zM552.7 32.3h2.2v2.2h-2.2zM548.4 33.1h2.2v2.2h-2.2zM545.6 22.7h2.2v2.2h-2.2zM550.0 28.3h2.2v2.2h-2.2zM549.0 40.9h2.2v2.2h-2.2zM546.8 22.9h2.2v2.2h-2.2zM546.2 34.5h2.2v2.2h-2.2zM542.4 46.9h2.2v2.2h-2.2zM552.3 30.1h2.2v2.2h-2.2zM554.6 31.9h2.2v2.2h-2.2zM552.6 33.6h2.2v2.2h-2.2zM540.8 9.7h2.2v2.2h-2.2zM550.9 34.5h2.2v2.2h-2.2zM545.1 22.0h2.2v2.2h-2.2zM557.3 27.9h2.2v2.2h-2.2zM535.5 15.2h2.2v2.2h-2.2zM544.7 26.4h2.2v2.2h-2.2zM549.9 23.8h2.2v2.2h-2.2zM552.5 30.8h2.2v2.2h-2.2zM555.6 28.7h2.2v2.2h-2.2zM550.0 32.9h2.2v2.2h-2.2zM544.2 37.2h2.2v2.2h-2.2zM533.0 13.9h2.2v2.2h-2.2zM553.6 36.4h2.2v2.2h-2.2zM538.9 35.3h2.2v2.2h-2.2zM545.7 27.5h2.2v2.2h-2.2zM541.4 15.6h2.2v2.2h-2.2zM556.0 37.9h2.2v2.2h-2.2zM553.4 29.5h2.2v2.2h-2.2zM549.2 23.5h2.2v2.2h-2.2zM553.9 30.2h2.2v2.2h-2.2zM549.9 30.0h2.2v2.2h-2.2zM547.1 30.1h2.2v2.2h-2.2zM557.5 37.4h2.2v2.2h-2.2zM547.4 41.5h2.2v2.2h-2.2zM549.3 20.1h2.2v2.2h-2.2zM547.3 38.1h2.2v2.2h-2.2zM547.5 26.8h2.2v2.2h-2.2zM546.8 23.8h2.2v2.2h-2.2zM513.3 11.7h2.2v2.2h-2.2zM520.5 29.2h2.2v2.2h-2.2zM514.0 34.5h2.2v2.2h-2.2zM554.2 32.1h2.2v2.2h-2.2zM514.7 26.2h2.2v2.2h-2.2zM523.5 10.5h2.2v2.2h-2.2zM511.5 7.6h2.2v2.2h-2.2zM508.1 10.8h2.2v2.2h-2.2zM544.1 36.8h2.2v2.2h-2.2zM532.9 33.9h2.2v2.2h-2.2zM520.0 37.1h2.2v2.2h-2.2zM526.2 7.2h2.2v2.2h-2.2zM510.5 33.8h2.2v2.2h-2.2zM547.5 33.6h2.2v2.2h-2.2zM552.3 31.8h2.2v2.2h-2.2zM553.7 24.8h2.2v2.2h-2.2zM515.7 28.3h2.2v2.2h-2.2zM558.4 36.5h2.2v2.2h-2.2zM538.4 39.5h2.2v2.2h-2.2zM515.4 15.5h2.2v2.2h-2.2zM546.6 37.3h2.2v2.2h-2.2zM540.6 26.0h2.2v2.2h-2.2zM520.9 37.0h2.2v2.2h-2.2zM540.8 17.9h2.2v2.2h-2.2zM552.5 22.7h2.2v2.2h-2.2zM547.9 29.3h2.2v2.2h-2.2zM547.2 42.7h2.2v2.2h-2.2zM552.5 32.1h2.2v2.2h-2.2zM554.3 12.0h2.2v2.2h-2.2zM557.2 115.8h2.2v2.2h-2.2zM558.3 119.0h2.2v2.2h-2.2zM557.6 118.0h2.2v2.2h-2.2zM561.2 115.6h2.2v2.2h-2.2zM557.4 114.7h2.2v2.2h-2.2zM557.3 113.0h2.2v2.2h-2.2zM559.6 118.7h2.2v2.2h-2.2zM556.1 113.2h2.2v2.2h-2.2zM561.0 117.3h2.2v2.2h-2.2zM556.3 120.1h2.2v2.2h-2.2zM558.3 112.9h2.2v2.2h-2.2zM557.0 112.1h2.2v2.2h-2.2zM561.8 119.2h2.2v2.2h-2.2zM558.9 119.0h2.2v2.2h-2.2zM555.2 113.7h2.2v2.2h-2.2zM557.1 115.8h2.2v2.2h-2.2zM558.5 117.8h2.2v2.2h-2.2zM558.4 116.0h2.2v2.2h-2.2zM560.1 113.9h2.2v2.2h-2.2zM558.4 117.0h2.2v2.2h-2.2zM556.2 116.5h2.2v2.2h-2.2zM560.0 118.8h2.2v2.2h-2.2zM554.8 114.5h2.2v2.2h-2.2zM556.6 116.4h2.2v2.2h-2.2zM557.7 119.9h2.2v2.2h-2.2zM558.5 117.0h2.2v2.2h-2.2zM555.5 113.6h2.2v2.2h-2.2zM558.0 115.3h2.2v2.2h-2.2zM557.1 114.8h2.2v2.2h-2.2zM553.1 113.9h2.2v2.2h-2.2zM560.3 116.5h2.2v2.2h-2.2zM556.6 116.9h2.2v2.2h-2.2zM556.4 121.0h2.2v2.2h-2.2zM557.1 113.6h2.2v2.2h-2.2zM557.1 118.8h2.2v2.2h-2.2zM556.3 110.3h2.2v2.2h-2.2zM556.5 117.6h2.2v2.2h-2.2zM558.9 115.2h2.2v2.2h-2.2zM554.6 109.2h2.2v2.2h-2.2zM555.8 120.3h2.2v2.2h-2.2zM556.3 120.0h2.2v2.2h-2.2zM560.0 118.1h2.2v2.2h-2.2zM560.5 121.7h2.2v2.2h-2.2zM559.0 114.9h2.2v2.2h-2.2zM555.4 115.7h2.2v2.2h-2.2zM556.7 115.4h2.2v2.2h-2.2zM556.3 113.2h2.2v2.2h-2.2zM558.5 117.2h2.2v2.2h-2.2zM559.9 120.2h2.2v2.2h-2.2zM558.9 119.6h2.2v2.2h-2.2zM556.0 120.1h2.2v2.2h-2.2zM557.6 116.8h2.2v2.2h-2.2zM555.7 115.8h2.2v2.2h-2.2zM555.8 116.3h2.2v2.2h-2.2zM552.8 112.2h2.2v2.2h-2.2zM555.8 115.6h2.2v2.2h-2.2zM555.5 114.1h2.2v2.2h-2.2zM558.5 118.1h2.2v2.2h-2.2zM558.6 113.4h2.2v2.2h-2.2zM560.5 117.1h2.2v2.2h-2.2zM559.0 119.0h2.2v2.2h-2.2zM558.8 114.5h2.2v2.2h-2.2zM556.3 115.1h2.2v2.2h-2.2zM558.7 116.5h2.2v2.2h-2.2zM558.4 114.3h2.2v2.2h-2.2zM558.2 114.9h2.2v2.2h-2.2zM560.3 117.6h2.2v2.2h-2.2zM557.1 119.1h2.2v2.2h-2.2zM554.3 114.1h2.2v2.2h-2.2zM560.4 115.3h2.2v2.2h-2.2zM555.8 113.2h2.2v2.2h-2.2zM555.0 115.2h2.2v2.2h-2.2zM558.0 114.7h2.2v2.2h-2.2zM559.5 115.2h2.2v2.2h-2.2zM557.0 112.9h2.2v2.2h-2.2z" fill="#000"/>
<path d="M627.6 19.1l1.3 2.4h-2.6zM667.7 38.6l1.3 2.4h-2.6zM623.5 84.1l1.3 2.4h-2.6zM516.3 48.6l1.3 2.4h-2.6zM504.7 52.8l1.3 2.4h-2.6z" fill="#000"/>
<rect x="617.3" y="32.3" width="2" height="2" fill="#8b0012"/>
<text class="ol" style="font-size:4.3px" x="607.5" y="31.8">GLN 32 (A)</text>
<rect x="644.7" y="32.3" width="2" height="2" fill="#8b0012"/>
<text class="ol" style="font-size:4.3px" x="634.9" y="31.8">ALA 36 (A)</text>
<rect x="628.7" y="37.5" width="2" height="2" fill="#8b0012"/>
<text class="ol" style="font-size:4.3px" x="619.3" y="37.0">VAL 34 (A)</text>
<rect x="619.3" y="40.6" width="2" height="2" fill="#8b0012"/>
<text class="ol" style="font-size:4.3px" x="608.9" y="40.1">GLU 33 (A)</text>
<rect x="614.8" y="48.5" width="2" height="2" fill="#8b0012"/>
<text class="ol" style="font-size:4.3px" x="605.2" y="48.0">ALA 62 (A)</text>
<path d="M176.1 290.6h2.2v2.2h-2.2zM193.1 294.8h2.2v2.2h-2.2zM183.4 296.5h2.2v2.2h-2.2zM181.3 298.1h2.2v2.2h-2.2zM187.5 296.9h2.2v2.2h-2.2zM190.6 298.5h2.2v2.2h-2.2zM195.4 299.2h2.2v2.2h-2.2zM185.4 300.2h2.2v2.2h-2.2zM182.3 302.7h2.2v2.2h-2.2zM169.4 304.4h2.2v2.2h-2.2zM188.6 304.4h2.2v2.2h-2.2zM191.1 305.8h2.2v2.2h-2.2zM196.9 305.4h2.2v2.2h-2.2zM199.4 306.4h2.2v2.2h-2.2zM201.0 307.9h2.2v2.2h-2.2zM204.2 308.5h2.2v2.2h-2.2zM206.2 310.0h2.2v2.2h-2.2zM200.6 311.0h2.2v2.2h-2.2zM203.1 311.0h2.2v2.2h-2.2zM209.3 313.5h2.2v2.2h-2.2zM177.7 322.4h2.2v2.2h-2.2zM187.5 324.5h2.2v2.2h-2.2zM206.2 319.3h2.2v2.2h-2.2zM207.3 321.0h2.2v2.2h-2.2zM209.3 320.4h2.2v2.2h-2.2zM211.4 319.3h2.2v2.2h-2.2zM206.2 322.9h2.2v2.2h-2.2zM208.3 323.5h2.2v2.2h-2.2zM200.6 324.1h2.2v2.2h-2.2zM213.1 323.5h2.2v2.2h-2.2zM210.4 321.8h2.2v2.2h-2.2zM196.5 256.4h2.2v2.2h-2.2zM169.8 263.1h2.2v2.2h-2.2zM176.1 278.7h2.2v2.2h-2.2zM176.1 290.7h2.2v2.2h-2.2zM166.7 250.0h2.2v2.2h-2.2zM206.2 248.9h2.2v2.2h-2.2zM270.1 285.0h2.2v2.2h-2.2zM271.1 289.2h2.2v2.2h-2.2zM275.9 288.1h2.2v2.2h-2.2zM281.9 297.5h2.2v2.2h-2.2zM279.4 298.1h2.2v2.2h-2.2zM283.6 298.5h2.2v2.2h-2.2zM270.5 284.9h2.2v2.2h-2.2zM271.1 289.5h2.2v2.2h-2.2zM275.9 288.0h2.2v2.2h-2.2zM273.8 382.6h2.2v2.2h-2.2zM195.5 392.0h2.2v2.2h-2.2zM198.6 392.0h2.2v2.2h-2.2zM202.5 238.8h2.2v2.2h-2.2zM193.0 240.2h2.2v2.2h-2.2zM165.9 229.9h2.2v2.2h-2.2zM181.4 219.9h2.2v2.2h-2.2zM190.3 232.8h2.2v2.2h-2.2zM197.2 243.3h2.2v2.2h-2.2zM203.0 236.6h2.2v2.2h-2.2zM160.8 220.7h2.2v2.2h-2.2zM196.8 234.0h2.2v2.2h-2.2zM196.8 231.8h2.2v2.2h-2.2zM173.0 220.4h2.2v2.2h-2.2zM192.6 244.0h2.2v2.2h-2.2zM180.0 243.9h2.2v2.2h-2.2zM184.5 241.6h2.2v2.2h-2.2zM188.3 245.8h2.2v2.2h-2.2zM193.2 238.1h2.2v2.2h-2.2zM187.0 234.5h2.2v2.2h-2.2zM185.1 243.2h2.2v2.2h-2.2zM168.5 231.1h2.2v2.2h-2.2zM188.7 249.3h2.2v2.2h-2.2zM171.1 233.2h2.2v2.2h-2.2zM168.2 225.2h2.2v2.2h-2.2zM181.6 238.3h2.2v2.2h-2.2zM170.6 222.5h2.2v2.2h-2.2zM175.8 225.9h2.2v2.2h-2.2zM189.4 248.9h2.2v2.2h-2.2zM167.0 227.2h2.2v2.2h-2.2zM193.9 230.6h2.2v2.2h-2.2zM202.6 231.6h2.2v2.2h-2.2zM178.9 232.9h2.2v2.2h-2.2zM198.6 241.1h2.2v2.2h-2.2zM200.8 250.5h2.2v2.2h-2.2zM197.1 238.7h2.2v2.2h-2.2zM153.8 215.5h2.2v2.2h-2.2zM191.5 235.4h2.2v2.2h-2.2zM166.0 230.4h2.2v2.2h-2.2zM164.6 227.4h2.2v2.2h-2.2zM176.9 237.4h2.2v2.2h-2.2zM173.7 221.8h2.2v2.2h-2.2zM173.8 237.7h2.2v2.2h-2.2zM201.2 234.6h2.2v2.2h-2.2zM169.5 222.5h2.2v2.2h-2.2zM205.2 242.1h2.2v2.2h-2.2zM164.3 222.6h2.2v2.2h-2.2zM202.1 239.3h2.2v2.2h-2.2zM153.4 225.2h2.2v2.2h-2.2zM195.2 231.1h2.2v2.2h-2.2zM177.4 231.1h2.2v2.2h-2.2zM204.9 247.1h2.2v2.2h-2.2zM198.4 242.9h2.2v2.2h-2.2zM162.1 241.1h2.2v2.2h-2.2zM184.1 232.5h2.2v2.2h-2.2zM164.0 245.4h2.2v2.2h-2.2zM191.5 228.6h2.2v2.2h-2.2zM174.3 212.9h2.2v2.2h-2.2zM191.9 251.0h2.2v2.2h-2.2zM177.9 221.2h2.2v2.2h-2.2zM171.4 225.1h2.2v2.2h-2.2zM204.6 229.2h2.2v2.2h-2.2zM193.8 244.8h2.2v2.2h-2.2zM183.3 230.6h2.2v2.2h-2.2zM168.9 226.8h2.2v2.2h-2.2zM185.4 212.8h2.2v2.2h-2.2zM188.0 236.2h2.2v2.2h-2.2zM199.5 248.4h2.2v2.2h-2.2zM184.8 219.8h2.2v2.2h-2.2zM190.4 220.4h2.2v2.2h-2.2zM200.2 239.8h2.2v2.2h-2.2zM196.8 238.5h2.2v2.2h-2.2zM162.9 242.0h2.2v2.2h-2.2zM158.5 216.5h2.2v2.2h-2.2zM188.5 238.7h2.2v2.2h-2.2zM180.3 237.3h2.2v2.2h-2.2zM155.8 217.1h2.2v2.2h-2.2zM188.5 214.3h2.2v2.2h-2.2zM179.7 227.9h2.2v2.2h-2.2zM171.9 216.7h2.2v2.2h-2.2zM203.0 240.5h2.2v2.2h-2.2zM189.8 214.3h2.2v2.2h-2.2zM183.1 214.7h2.2v2.2h-2.2zM167.4 237.1h2.2v2.2h-2.2zM197.0 243.8h2.2v2.2h-2.2zM171.6 217.7h2.2v2.2h-2.2zM182.4 221.0h2.2v2.2h-2.2zM167.5 245.7h2.2v2.2h-2.2zM174.6 245.2h2.2v2.2h-2.2zM212.7 241.1h2.2v2.2h-2.2zM187.2 248.1h2.2v2.2h-2.2zM185.5 237.3h2.2v2.2h-2.2zM177.4 250.1h2.2v2.2h-2.2zM160.0 219.7h2.2v2.2h-2.2zM174.2 242.9h2.2v2.2h-2.2z" fill="#000"/>
<path d="M151.2 217.6l1.3 2.4h-2.6zM154.3 229.6l1.3 2.4h-2.6zM200.5 282.6l1.3 2.4h-2.6zM200.5 282.7l1.3 2.4h-2.6zM283.7 294.2l1.3 2.4h-2.6zM282.2 366.2l1.3 2.4h-2.6zM274.3 377.0l1.3 2.4h-2.6zM282.2 376.2l1.3 2.4h-2.6zM283.7 376.6l1.3 2.4h-2.6zM304.9 384.3l1.3 2.4h-2.6zM322.7 387.4l1.3 2.4h-2.6zM166.2 386.4l1.3 2.4h-2.6zM190.8 382.4l1.3 2.4h-2.6zM159.6 391.8l1.3 2.4h-2.6z" fill="#000"/>
<rect x="287.2" y="309.0" width="2" height="2" fill="#8b0012"/>
<text class="ol" style="font-size:4.5px" x="277.4" y="308.6">ASN 27 (A)</text>
<path d="M399.9 248.0h2.2v2.2h-2.2zM406.3 248.6h2.2v2.2h-2.2zM408.8 252.1h2.2v2.2h-2.2zM418.2 253.8h2.2v2.2h-2.2zM426.1 251.3h2.2v2.2h-2.2zM440.6 255.3h2.2v2.2h-2.2zM443.1 254.4h2.2v2.2h-2.2zM448.3 248.6h2.2v2.2h-2.2zM452.1 251.7h2.2v2.2h-2.2zM449.3 255.3h2.2v2.2h-2.2zM408.8 258.4h2.2v2.2h-2.2zM445.2 264.2h2.2v2.2h-2.2zM414.0 267.3h2.2v2.2h-2.2zM430.6 265.2h2.2v2.2h-2.2zM424.0 269.4h2.2v2.2h-2.2zM432.7 269.4h2.2v2.2h-2.2zM444.2 270.0h2.2v2.2h-2.2zM440.0 278.7h2.2v2.2h-2.2zM437.9 287.1h2.2v2.2h-2.2zM438.5 287.0h2.2v2.2h-2.2zM415.7 291.6h2.2v2.2h-2.2zM434.8 297.4h2.2v2.2h-2.2zM433.8 299.5h2.2v2.2h-2.2zM431.7 301.6h2.2v2.2h-2.2zM427.5 304.7h2.2v2.2h-2.2zM426.5 309.9h2.2v2.2h-2.2zM428.6 312.0h2.2v2.2h-2.2zM431.7 313.6h2.2v2.2h-2.2zM435.8 310.5h2.2v2.2h-2.2zM434.8 312.6h2.2v2.2h-2.2zM437.9 305.7h2.2v2.2h-2.2zM441.0 306.8h2.2v2.2h-2.2zM443.1 304.7h2.2v2.2h-2.2zM446.2 305.7h2.2v2.2h-2.2zM441.0 308.8h2.2v2.2h-2.2zM444.2 310.9h2.2v2.2h-2.2zM446.2 309.9h2.2v2.2h-2.2zM445.2 313.0h2.2v2.2h-2.2zM451.4 315.1h2.2v2.2h-2.2zM434.8 322.4h2.2v2.2h-2.2zM513.8 289.6h2.2v2.2h-2.2zM515.3 296.9h2.2v2.2h-2.2zM516.9 295.4h2.2v2.2h-2.2zM521.5 301.7h2.2v2.2h-2.2zM522.6 300.2h2.2v2.2h-2.2zM527.1 303.7h2.2v2.2h-2.2zM505.9 280.8h2.2v2.2h-2.2zM511.1 280.4h2.2v2.2h-2.2zM513.8 288.7h2.2v2.2h-2.2zM398.4 391.8h2.2v2.2h-2.2zM433.3 231.4h2.2v2.2h-2.2zM427.6 231.9h2.2v2.2h-2.2zM417.0 233.6h2.2v2.2h-2.2zM444.2 233.0h2.2v2.2h-2.2zM438.7 235.8h2.2v2.2h-2.2zM430.1 237.3h2.2v2.2h-2.2zM398.4 216.5h2.2v2.2h-2.2zM428.7 237.4h2.2v2.2h-2.2zM413.5 219.4h2.2v2.2h-2.2zM442.8 225.9h2.2v2.2h-2.2zM414.6 227.9h2.2v2.2h-2.2zM418.5 228.5h2.2v2.2h-2.2zM421.4 235.3h2.2v2.2h-2.2zM442.8 245.1h2.2v2.2h-2.2zM419.4 226.5h2.2v2.2h-2.2zM416.7 231.3h2.2v2.2h-2.2zM431.7 237.6h2.2v2.2h-2.2zM405.6 224.3h2.2v2.2h-2.2zM426.9 222.8h2.2v2.2h-2.2zM410.6 220.0h2.2v2.2h-2.2zM412.7 229.0h2.2v2.2h-2.2zM421.8 229.3h2.2v2.2h-2.2zM445.1 230.7h2.2v2.2h-2.2zM419.1 221.6h2.2v2.2h-2.2zM445.1 236.4h2.2v2.2h-2.2zM416.0 222.9h2.2v2.2h-2.2zM425.7 230.5h2.2v2.2h-2.2zM423.7 227.7h2.2v2.2h-2.2zM447.9 235.7h2.2v2.2h-2.2zM425.5 226.5h2.2v2.2h-2.2zM437.1 234.1h2.2v2.2h-2.2zM416.8 233.5h2.2v2.2h-2.2zM407.5 219.9h2.2v2.2h-2.2zM421.0 235.0h2.2v2.2h-2.2zM433.8 240.9h2.2v2.2h-2.2zM418.3 232.2h2.2v2.2h-2.2zM420.4 239.9h2.2v2.2h-2.2zM431.4 234.8h2.2v2.2h-2.2zM433.8 232.8h2.2v2.2h-2.2zM423.4 226.0h2.2v2.2h-2.2zM441.1 238.3h2.2v2.2h-2.2zM418.8 232.5h2.2v2.2h-2.2zM435.7 243.8h2.2v2.2h-2.2zM422.3 235.7h2.2v2.2h-2.2zM404.8 219.7h2.2v2.2h-2.2zM426.3 232.7h2.2v2.2h-2.2zM437.8 247.2h2.2v2.2h-2.2zM426.2 231.1h2.2v2.2h-2.2zM438.1 244.8h2.2v2.2h-2.2zM439.1 237.3h2.2v2.2h-2.2zM451.9 237.4h2.2v2.2h-2.2zM440.8 226.3h2.2v2.2h-2.2zM425.7 235.2h2.2v2.2h-2.2zM418.8 235.3h2.2v2.2h-2.2zM421.9 242.4h2.2v2.2h-2.2zM426.2 230.3h2.2v2.2h-2.2zM442.4 242.2h2.2v2.2h-2.2zM420.1 241.6h2.2v2.2h-2.2zM412.1 231.4h2.2v2.2h-2.2zM409.8 222.4h2.2v2.2h-2.2zM434.0 237.7h2.2v2.2h-2.2zM426.3 234.8h2.2v2.2h-2.2zM413.8 237.9h2.2v2.2h-2.2zM428.0 226.1h2.2v2.2h-2.2zM449.4 244.9h2.2v2.2h-2.2zM414.0 228.7h2.2v2.2h-2.2zM442.1 237.9h2.2v2.2h-2.2zM417.9 227.1h2.2v2.2h-2.2zM424.4 229.0h2.2v2.2h-2.2zM416.7 237.4h2.2v2.2h-2.2zM429.3 229.8h2.2v2.2h-2.2zM408.4 225.6h2.2v2.2h-2.2zM440.1 241.3h2.2v2.2h-2.2zM420.6 218.4h2.2v2.2h-2.2zM442.4 234.0h2.2v2.2h-2.2zM414.9 218.2h2.2v2.2h-2.2zM398.5 223.6h2.2v2.2h-2.2zM441.6 231.9h2.2v2.2h-2.2zM410.0 229.6h2.2v2.2h-2.2zM425.5 244.0h2.2v2.2h-2.2zM438.3 235.0h2.2v2.2h-2.2zM420.6 227.2h2.2v2.2h-2.2zM439.9 237.2h2.2v2.2h-2.2zM438.5 229.4h2.2v2.2h-2.2zM419.3 228.8h2.2v2.2h-2.2zM420.5 224.2h2.2v2.2h-2.2zM421.1 227.8h2.2v2.2h-2.2zM429.0 233.8h2.2v2.2h-2.2zM451.4 239.3h2.2v2.2h-2.2zM447.6 243.4h2.2v2.2h-2.2zM443.3 236.1h2.2v2.2h-2.2zM417.3 227.3h2.2v2.2h-2.2zM424.5 232.3h2.2v2.2h-2.2zM417.9 233.0h2.2v2.2h-2.2zM428.1 230.4h2.2v2.2h-2.2zM432.5 240.0h2.2v2.2h-2.2zM439.0 230.6h2.2v2.2h-2.2zM444.5 231.8h2.2v2.2h-2.2zM436.6 246.3h2.2v2.2h-2.2zM423.0 228.0h2.2v2.2h-2.2zM431.5 240.0h2.2v2.2h-2.2zM414.5 222.0h2.2v2.2h-2.2zM408.4 216.5h2.2v2.2h-2.2zM427.6 231.8h2.2v2.2h-2.2zM403.9 226.4h2.2v2.2h-2.2zM434.5 245.2h2.2v2.2h-2.2zM407.1 224.1h2.2v2.2h-2.2zM436.0 233.0h2.2v2.2h-2.2zM420.2 231.4h2.2v2.2h-2.2zM421.6 234.2h2.2v2.2h-2.2zM431.0 234.1h2.2v2.2h-2.2zM417.1 227.4h2.2v2.2h-2.2zM426.3 233.4h2.2v2.2h-2.2zM440.6 249.4h2.2v2.2h-2.2zM428.3 240.1h2.2v2.2h-2.2zM410.9 224.0h2.2v2.2h-2.2zM425.0 233.7h2.2v2.2h-2.2zM414.3 233.0h2.2v2.2h-2.2zM434.2 217.4h2.2v2.2h-2.2zM448.8 244.1h2.2v2.2h-2.2zM411.6 232.9h2.2v2.2h-2.2zM428.0 236.7h2.2v2.2h-2.2zM413.3 232.2h2.2v2.2h-2.2zM452.3 225.7h2.2v2.2h-2.2zM443.1 248.3h2.2v2.2h-2.2zM434.9 226.2h2.2v2.2h-2.2zM411.7 227.7h2.2v2.2h-2.2zM450.1 323.7h2.2v2.2h-2.2zM446.8 321.3h2.2v2.2h-2.2zM448.6 317.1h2.2v2.2h-2.2zM449.8 322.3h2.2v2.2h-2.2zM446.4 321.7h2.2v2.2h-2.2zM451.7 322.6h2.2v2.2h-2.2zM448.1 318.5h2.2v2.2h-2.2zM447.4 318.7h2.2v2.2h-2.2zM446.4 320.2h2.2v2.2h-2.2zM449.9 321.6h2.2v2.2h-2.2zM449.3 324.1h2.2v2.2h-2.2zM452.9 322.4h2.2v2.2h-2.2zM449.1 320.7h2.2v2.2h-2.2zM447.0 320.2h2.2v2.2h-2.2zM446.3 318.9h2.2v2.2h-2.2zM450.5 320.0h2.2v2.2h-2.2zM451.1 322.0h2.2v2.2h-2.2zM447.6 321.0h2.2v2.2h-2.2zM448.2 320.5h2.2v2.2h-2.2zM446.1 317.1h2.2v2.2h-2.2zM445.2 319.3h2.2v2.2h-2.2zM447.9 322.0h2.2v2.2h-2.2zM451.3 324.3h2.2v2.2h-2.2zM452.6 322.6h2.2v2.2h-2.2zM448.1 320.0h2.2v2.2h-2.2zM450.4 323.9h2.2v2.2h-2.2zM448.0 322.1h2.2v2.2h-2.2zM448.2 321.8h2.2v2.2h-2.2z" fill="#000"/>
<path d="M391.2 216.6l1.3 2.4h-2.6zM412.4 209.9l1.3 2.4h-2.6zM442.1 259.2l1.3 2.4h-2.6zM520.5 296.3l1.3 2.4h-2.6zM562.0 389.7l1.3 2.4h-2.6z" fill="#000"/>
<text class="rl" style="font-size:7.4px;fill:#500000;stroke:#500000" x="40.3" y="13.5" text-anchor="middle">B</text>
<text class="rl" style="font-size:7.8px" x="35.1" y="33.7" text-anchor="middle">b</text>
<text class="rl" style="font-size:8px" x="40.3" y="84.5" text-anchor="middle">a</text>
<text class="rl" style="font-size:7.4px;fill:#500000;stroke:#500000" x="67.4" y="94.5" text-anchor="middle">A</text>
<text class="rl" style="font-size:4.8px;stroke-width:0.08px" x="118.4" y="32.4" text-anchor="middle">~b</text>
<text class="rl" style="font-size:4.8px;stroke-width:0.08px" x="117.2" y="105.8" text-anchor="middle">~a</text>
<text class="rl" style="font-size:4.8px;stroke-width:0.08px" x="149.1" y="42.7" text-anchor="middle">~l</text>
<text class="rl" style="font-size:5.5px" x="143.7" y="57.4" text-anchor="middle">l</text>
<text class="rl" style="font-size:4.8px;fill:#500000;stroke:#500000;stroke-width:0.08px" x="154.6" y="74.8" text-anchor="middle">L</text>
<text class="rl" style="font-size:4.8px;stroke-width:0.08px" x="196.7" y="12.8" text-anchor="middle">~b</text>
<text class="rl" style="font-size:4.8px;stroke-width:0.08px" x="215.2" y="17.5" text-anchor="middle">b</text>
<text class="rl" style="font-size:4.8px;stroke-width:0.08px" x="143.5" y="163.9" text-anchor="middle">~p</text>
<text class="rl" style="font-size:4.8px;stroke-width:0.08px" x="154.0" y="174.1" text-anchor="middle">p</text>
<text class="rl" style="font-size:4.8px;stroke-width:0.08px" x="207.4" y="179.1" text-anchor="middle">~b</text>
<text class="rl" style="font-size:4.8px;stroke-width:0.08px" x="33.2" y="163.7" text-anchor="middle">~b</text>
<text class="rl" style="font-size:4.8px;stroke-width:0.08px" x="40.6" y="173.9" text-anchor="middle">b</text>
<text class="rl" style="font-size:7.4px;fill:#500000;stroke:#500000" x="280.1" y="12.1" text-anchor="middle">B</text>
<text class="rl" style="font-size:7.8px" x="275.1" y="32.5" text-anchor="middle">b</text>
<text class="rl" style="font-size:8px" x="280.1" y="83.8" text-anchor="middle">a</text>
<text class="rl" style="font-size:7.4px;fill:#500000;stroke:#500000" x="306.1" y="93.9" text-anchor="middle">A</text>
<text class="rl" style="font-size:4.8px;stroke-width:0.08px" x="355.0" y="31.1" text-anchor="middle">~b</text>
<text class="rl" style="font-size:4.8px;stroke-width:0.08px" x="353.9" y="105.4" text-anchor="middle">~a</text>
<text class="rl" style="font-size:4.8px;stroke-width:0.08px" x="384.5" y="41.6" text-anchor="middle">~l</text>
<text class="rl" style="font-size:5.5px" x="379.3" y="56.4" text-anchor="middle">l</text>
<text class="rl" style="font-size:4.8px;fill:#500000;stroke:#500000;stroke-width:0.08px" x="389.7" y="74.0" text-anchor="middle">L</text>
<text class="rl" style="font-size:4.8px;stroke-width:0.08px" x="430.2" y="11.4" text-anchor="middle">~b</text>
<text class="rl" style="font-size:4.8px;stroke-width:0.08px" x="447.9" y="16.1" text-anchor="middle">b</text>
<text class="rl" style="font-size:4.8px;stroke-width:0.08px" x="379.1" y="164.0" text-anchor="middle">~p</text>
<text class="rl" style="font-size:4.8px;stroke-width:0.08px" x="389.2" y="174.4" text-anchor="middle">p</text>
<text class="rl" style="font-size:4.8px;stroke-width:0.08px" x="440.5" y="179.4" text-anchor="middle">~b</text>
<text class="rl" style="font-size:4.8px;stroke-width:0.08px" x="273.3" y="163.8" text-anchor="middle">~b</text>
<text class="rl" style="font-size:4.8px;stroke-width:0.08px" x="280.4" y="174.2" text-anchor="middle">b</text>
<text class="rl" style="font-size:7.4px;fill:#500000;stroke:#500000" x="510.6" y="12.5" text-anchor="middle">B</text>
<text class="rl" style="font-size:7.8px" x="505.8" y="32.8" text-anchor="middle">b</text>
<text class="rl" style="font-size:8px" x="510.6" y="84.0" text-anchor="middle">a</text>
<text class="rl" style="font-size:7.4px;fill:#500000;stroke:#500000" x="535.6" y="94.1" text-anchor="middle">A</text>
<text class="rl" style="font-size:4.8px;stroke-width:0.08px" x="582.7" y="31.5" text-anchor="middle">~b</text>
<text class="rl" style="font-size:4.8px;stroke-width:0.08px" x="581.7" y="105.5" text-anchor="middle">~a</text>
<text class="rl" style="font-size:4.8px;stroke-width:0.08px" x="611.1" y="41.9" text-anchor="middle">~l</text>
<text class="rl" style="font-size:5.5px" x="606.1" y="56.7" text-anchor="middle">l</text>
<text class="rl" style="font-size:4.8px;fill:#500000;stroke:#500000;stroke-width:0.08px" x="616.1" y="74.3" text-anchor="middle">L</text>
<text class="rl" style="font-size:4.8px;stroke-width:0.08px" x="655.2" y="11.8" text-anchor="middle">~b</text>
<text class="rl" style="font-size:4.8px;stroke-width:0.08px" x="672.2" y="16.5" text-anchor="middle">b</text>
<text class="rl" style="font-size:4.8px;stroke-width:0.08px" x="605.9" y="164.1" text-anchor="middle">~p</text>
<text class="rl" style="font-size:4.8px;stroke-width:0.08px" x="615.7" y="174.4" text-anchor="middle">p</text>
<text class="rl" style="font-size:4.8px;stroke-width:0.08px" x="665.1" y="179.4" text-anchor="middle">~b</text>
<text class="rl" style="font-size:4.8px;stroke-width:0.08px" x="503.9" y="163.9" text-anchor="middle">~b</text>
<text class="rl" style="font-size:4.8px;stroke-width:0.08px" x="510.8" y="174.2" text-anchor="middle">b</text>
<text class="rl" style="font-size:7.4px;fill:#500000;stroke:#500000" x="158.4" y="220.8" text-anchor="middle">B</text>
<text class="rl" style="font-size:7.8px" x="153.3" y="240.9" text-anchor="middle">b</text>
<text class="rl" style="font-size:8px" x="158.4" y="291.4" text-anchor="middle">a</text>
<text class="rl" style="font-size:7.4px;fill:#500000;stroke:#500000" x="184.8" y="301.5" text-anchor="middle">A</text>
<text class="rl" style="font-size:4.8px;stroke-width:0.08px" x="234.5" y="239.6" text-anchor="middle">~b</text>
<text class="rl" style="font-size:4.8px;stroke-width:0.08px" x="233.4" y="312.7" text-anchor="middle">~a</text>
<text class="rl" style="font-size:4.8px;stroke-width:0.08px" x="264.5" y="249.9" text-anchor="middle">~l</text>
<text class="rl" style="font-size:5.5px" x="259.2" y="264.5" text-anchor="middle">l</text>
<text class="rl" style="font-size:4.8px;fill:#500000;stroke:#500000;stroke-width:0.08px" x="269.8" y="281.8" text-anchor="middle">L</text>
<text class="rl" style="font-size:4.8px;stroke-width:0.08px" x="311.0" y="220.1" text-anchor="middle">~b</text>
<text class="rl" style="font-size:4.8px;stroke-width:0.08px" x="329.0" y="224.7" text-anchor="middle">b</text>
<text class="rl" style="font-size:4.8px;stroke-width:0.08px" x="259.0" y="370.5" text-anchor="middle">~p</text>
<text class="rl" style="font-size:4.8px;stroke-width:0.08px" x="269.3" y="380.7" text-anchor="middle">p</text>
<text class="rl" style="font-size:4.8px;stroke-width:0.08px" x="321.5" y="385.7" text-anchor="middle">~b</text>
<text class="rl" style="font-size:4.8px;stroke-width:0.08px" x="151.4" y="370.3" text-anchor="middle">~b</text>
<text class="rl" style="font-size:4.8px;stroke-width:0.08px" x="158.6" y="380.5" text-anchor="middle">b</text>
<text class="rl" style="font-size:7.4px;fill:#500000;stroke:#500000" x="399.5" y="218.5" text-anchor="middle">B</text>
<text class="rl" style="font-size:7.8px" x="394.5" y="238.8" text-anchor="middle">b</text>
<text class="rl" style="font-size:8px" x="399.5" y="289.8" text-anchor="middle">a</text>
<text class="rl" style="font-size:7.4px;fill:#500000;stroke:#500000" x="425.5" y="299.9" text-anchor="middle">A</text>
<text class="rl" style="font-size:4.8px;stroke-width:0.08px" x="474.4" y="237.5" text-anchor="middle">~b</text>
<text class="rl" style="font-size:4.8px;stroke-width:0.08px" x="473.3" y="311.3" text-anchor="middle">~a</text>
<text class="rl" style="font-size:4.8px;stroke-width:0.08px" x="503.9" y="247.9" text-anchor="middle">~l</text>
<text class="rl" style="font-size:5.5px" x="498.7" y="262.6" text-anchor="middle">l</text>
<text class="rl" style="font-size:4.8px;fill:#500000;stroke:#500000;stroke-width:0.08px" x="509.1" y="280.1" text-anchor="middle">L</text>
<text class="rl" style="font-size:4.8px;stroke-width:0.08px" x="549.6" y="217.8" text-anchor="middle">~b</text>
<text class="rl" style="font-size:4.8px;stroke-width:0.08px" x="567.3" y="222.5" text-anchor="middle">b</text>
<text class="rl" style="font-size:4.8px;stroke-width:0.08px" x="498.5" y="369.6" text-anchor="middle">~p</text>
<text class="rl" style="font-size:4.8px;stroke-width:0.08px" x="508.6" y="379.9" text-anchor="middle">p</text>
<text class="rl" style="font-size:4.8px;stroke-width:0.08px" x="559.9" y="384.9" text-anchor="middle">~b</text>
<text class="rl" style="font-size:4.8px;stroke-width:0.08px" x="392.7" y="369.4" text-anchor="middle">~b</text>
<text class="rl" style="font-size:4.8px;stroke-width:0.08px" x="399.8" y="379.7" text-anchor="middle">b</text>
</svg></body></html>
